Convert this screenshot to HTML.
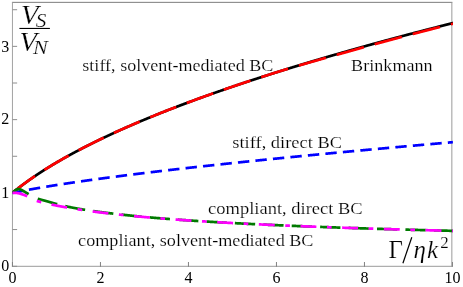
<!DOCTYPE html>
<html><head><meta charset="utf-8"><title>plot</title>
<style>
html,body{margin:0;padding:0;background:#fff;}
body{width:463px;height:287px;overflow:hidden;font-family:"Liberation Serif",serif;}
svg{display:block;will-change:transform;}
.mt{stroke:#fff;stroke-width:0.2px;}
</style></head><body>
<svg width="463" height="287" viewBox="0 0 463 287">
<defs><clipPath id="clip"><rect x="12.0" y="2.35" width="440.95000000000005" height="263.95"/></clipPath></defs>
<rect width="463" height="287" fill="#fff"/>
<g stroke-width="1" fill="none"><path d="M11.94,2.35 H452.35" stroke="#7c7c7c"/><path d="M12.44,2.35 V266.8" stroke="#a2a2a2"/><path d="M451.85,2.35 V266.8" stroke="#9a9a9a"/><path d="M11.94,266.3 H452.35" stroke="#9a9a9a"/><g stroke="#8e8e8e"><path d="M12.44,229.56 h4.7"/><path d="M12.44,192.92 h4.7"/><path d="M12.44,156.28 h4.7"/><path d="M12.44,119.64 h4.7"/><path d="M12.44,83.00 h4.7"/><path d="M12.44,46.36 h4.7"/><path d="M12.44,9.72 h4.7"/><path d="M12.44,266.8 v-4.8" stroke="#808080"/><path d="M100.44,266.8 v-4.8" stroke="#808080"/><path d="M188.44,266.8 v-4.8" stroke="#808080"/><path d="M276.44,266.8 v-4.8" stroke="#808080"/><path d="M364.44,266.8 v-4.8" stroke="#808080"/><path d="M452.44,266.8 v-4.8" stroke="#808080"/><path d="M12.44,266.3 h4.7"/></g></g>

<g fill="none" stroke-width="2.7" stroke-linecap="butt" stroke-linejoin="round" clip-path="url(#clip)">
<path d="M12.44,192.92 L12.55,192.83 L12.66,192.74 L12.77,192.65 L12.88,192.55 L12.99,192.46 L13.10,192.37 L13.21,192.28 L13.32,192.19 L13.43,192.10 L13.54,192.01 L13.65,191.92 L13.76,191.83 L13.87,191.74 L13.98,191.65 L14.09,191.56 L14.20,191.47 L14.31,191.38 L14.42,191.29 L14.53,191.20 L14.64,191.11 L14.75,191.02 L14.86,190.93 L14.97,190.84 L15.08,190.75 L15.19,190.66 L15.30,190.58 L15.41,190.49 L15.52,190.40 L15.63,190.31 L15.74,190.22 L15.85,190.13 L15.96,190.05 L16.07,189.96 L16.18,189.87 L16.29,189.78 L16.40,189.69 L16.51,189.61 L16.62,189.52 L16.73,189.43 L16.84,189.34 L16.95,189.26 L17.06,189.17 L17.17,189.08 L17.28,188.99 L17.39,188.91 L17.50,188.82 L17.61,188.73 L17.72,188.65 L17.83,188.56 L17.94,188.47 L18.05,188.39 L18.16,188.30 L18.27,188.22 L18.38,188.13 L18.49,188.04 L18.60,187.96 L18.71,187.87 L18.82,187.79 L18.93,187.70 L19.04,187.62 L19.15,187.53 L19.26,187.45 L19.37,187.36 L19.48,187.28 L19.59,187.19 L19.70,187.11 L19.81,187.02 L19.92,186.94 L20.03,186.85 L20.14,186.77 L20.25,186.68 L20.36,186.60 L20.47,186.51 L20.58,186.43 L20.69,186.34 L20.80,186.26 L20.91,186.18 L21.02,186.09 L21.13,186.01 L21.24,185.93 L21.35,185.84 L21.46,185.76 L21.57,185.68 L21.68,185.59 L21.79,185.51 L21.90,185.43 L22.01,185.34 L22.12,185.26 L22.23,185.18 L22.34,185.09 L22.45,185.01 L22.56,184.93 L22.67,184.85 L22.78,184.76 L22.89,184.68 L23.00,184.60 L23.11,184.52 L23.22,184.43 L23.33,184.35 L23.44,184.27 L23.55,184.19 L23.66,184.11 L23.77,184.03 L23.88,183.94 L23.99,183.86 L24.10,183.78 L24.21,183.70 L24.32,183.62 L24.43,183.54 L24.54,183.46 L24.65,183.37 L24.76,183.29 L24.87,183.21 L24.98,183.13 L25.09,183.05 L25.20,182.97 L25.31,182.89 L25.42,182.81 L25.53,182.73 L25.64,182.65 L25.75,182.57 L25.86,182.49 L25.97,182.41 L26.08,182.33 L26.19,182.25 L26.30,182.17 L26.41,182.09 L26.52,182.01 L26.63,181.93 L26.74,181.85 L26.85,181.77 L26.96,181.69 L27.07,181.61 L27.18,181.53 L27.29,181.45 L27.40,181.37 L27.51,181.29 L27.62,181.21 L27.73,181.14 L27.84,181.06 L27.95,180.98 L28.06,180.90 L28.17,180.82 L28.28,180.74 L28.39,180.66 L28.50,180.58 L28.61,180.51 L28.72,180.43 L28.83,180.35 L28.94,180.27 L29.05,180.19 L29.16,180.12 L29.27,180.04 L29.38,179.96 L29.49,179.88 L29.60,179.80 L29.71,179.73 L29.82,179.65 L29.93,179.57 L30.04,179.49 L30.15,179.42 L30.26,179.34 L30.37,179.26 L30.48,179.18 L30.59,179.11 L30.70,179.03 L30.81,178.95 L30.92,178.88 L31.03,178.80 L31.14,178.72 L31.25,178.65 L31.36,178.57 L31.47,178.49 L31.58,178.42 L31.69,178.34 L31.80,178.26 L31.91,178.19 L32.02,178.11 L32.13,178.04 L32.24,177.96 L32.35,177.88 L32.46,177.81 L32.57,177.73 L32.68,177.66 L32.79,177.58 L32.90,177.50 L33.01,177.43 L33.12,177.35 L33.23,177.28 L33.34,177.20 L33.45,177.13 L33.56,177.05 L33.67,176.98 L33.78,176.90 L33.89,176.83 L34.00,176.75 L34.11,176.68 L34.22,176.60 L34.33,176.53 L34.44,176.45 L34.55,176.38 L34.66,176.30 L34.77,176.23 L34.88,176.15 L34.99,176.08 L35.10,176.00 L35.21,175.93 L35.32,175.85 L35.43,175.78 L35.54,175.71 L35.65,175.63 L35.76,175.56 L35.87,175.48 L35.98,175.41 L36.09,175.34 L36.20,175.26 L36.31,175.19 L36.42,175.11 L36.53,175.04 L36.64,174.97 L36.75,174.89 L36.86,174.82 L36.97,174.75 L37.08,174.67 L37.19,174.60 L37.30,174.53 L37.41,174.45 L37.52,174.38 L37.63,174.31 L37.74,174.23 L37.85,174.16 L37.96,174.09 L38.07,174.02 L38.18,173.94 L38.29,173.87 L38.40,173.80 L38.51,173.72 L38.62,173.65 L38.73,173.58 L38.84,173.51 L38.95,173.43 L39.06,173.36 L39.17,173.29 L39.28,173.22 L39.39,173.15 L39.50,173.07 L39.61,173.00 L39.72,172.93 L39.83,172.86 L39.94,172.79 L40.05,172.71 L40.16,172.64 L40.27,172.57 L40.38,172.50 L40.49,172.43 L40.60,172.36 L40.71,172.28 L40.82,172.21 L40.93,172.14 L41.04,172.07 L41.15,172.00 L41.26,171.93 L41.37,171.86 L41.48,171.79 L41.59,171.71 L41.70,171.64 L41.81,171.57 L41.92,171.50 L42.03,171.43 L42.14,171.36 L42.25,171.29 L42.36,171.22 L42.47,171.15 L42.58,171.08 L42.69,171.01 L42.80,170.94 L42.91,170.87 L43.02,170.80 L43.13,170.72 L43.24,170.65 L43.35,170.58 L43.46,170.51 L43.57,170.44 L43.68,170.37 L43.79,170.30 L43.90,170.23 L44.01,170.16 L44.12,170.09 L44.23,170.02 L44.34,169.95 L44.45,169.88 L44.56,169.82 L44.67,169.75 L44.78,169.68 L44.89,169.61 L45.00,169.54 L45.11,169.47 L45.22,169.40 L45.33,169.33 L45.44,169.26 L45.55,169.19 L45.66,169.12 L45.77,169.05 L45.88,168.98 L45.99,168.91 L46.10,168.85 L46.21,168.78 L46.32,168.71 L46.43,168.64 L46.54,168.57 L46.65,168.50 L46.76,168.43 L46.87,168.36 L46.98,168.30 L47.09,168.23 L47.20,168.16 L47.31,168.09 L47.42,168.02 L47.53,167.95 L47.64,167.88 L47.75,167.82 L47.86,167.75 L47.97,167.68 L48.08,167.61 L48.19,167.54 L48.30,167.48 L48.41,167.41 L48.52,167.34 L48.63,167.27 L48.74,167.20 L48.85,167.14 L48.96,167.07 L49.07,167.00 L49.18,166.93 L49.29,166.87 L49.40,166.80 L49.51,166.73 L49.62,166.66 L49.73,166.60 L49.84,166.53 L49.95,166.46 L50.06,166.39 L50.17,166.33 L50.28,166.26 L50.39,166.19 L50.50,166.13 L50.61,166.06 L50.72,165.99 L50.83,165.92 L50.94,165.86 L51.05,165.79 L51.16,165.72 L51.27,165.66 L51.38,165.59 L51.49,165.52 L51.60,165.46 L51.71,165.39 L51.82,165.32 L51.93,165.26 L52.04,165.19 L52.15,165.12 L52.26,165.06 L52.37,164.99 L52.48,164.93 L52.59,164.86 L52.70,164.79 L52.81,164.73 L52.92,164.66 L53.03,164.59 L53.14,164.53 L53.25,164.46 L53.36,164.40 L53.47,164.33 L53.58,164.26 L53.69,164.20 L53.80,164.13 L53.91,164.07 L54.02,164.00 L54.13,163.94 L54.24,163.87 L54.35,163.80 L54.46,163.74 L54.57,163.67 L54.68,163.61 L54.79,163.54 L54.90,163.48 L55.01,163.41 L55.12,163.35 L55.23,163.28 L55.34,163.22 L55.45,163.15 L55.56,163.09 L55.67,163.02 L55.78,162.96 L55.89,162.89 L56.00,162.83 L56.11,162.76 L56.22,162.70 L56.33,162.63 L56.44,162.57 L56.77,162.37 L57.10,162.18 L57.43,161.98 L57.77,161.79 L58.10,161.60 L58.43,161.40 L58.76,161.21 L59.09,161.02 L59.42,160.82 L59.75,160.63 L60.09,160.44 L60.42,160.25 L60.75,160.06 L61.08,159.87 L61.41,159.68 L61.74,159.49 L62.07,159.30 L62.40,159.11 L62.74,158.92 L63.07,158.73 L63.40,158.55 L63.73,158.36 L64.06,158.17 L64.39,157.98 L64.72,157.80 L65.06,157.61 L65.39,157.43 L65.72,157.24 L66.05,157.05 L66.38,156.87 L66.71,156.68 L67.04,156.50 L67.38,156.32 L67.71,156.13 L68.04,155.95 L68.37,155.77 L68.70,155.58 L69.03,155.40 L69.36,155.22 L69.70,155.04 L70.03,154.85 L70.36,154.67 L70.69,154.49 L71.02,154.31 L71.35,154.13 L71.68,153.95 L72.01,153.77 L72.35,153.59 L72.68,153.41 L73.01,153.23 L73.34,153.05 L73.67,152.87 L74.00,152.70 L74.33,152.52 L74.67,152.34 L75.00,152.16 L75.33,151.98 L75.66,151.81 L75.99,151.63 L76.32,151.45 L76.65,151.28 L76.99,151.10 L77.32,150.93 L77.65,150.75 L77.98,150.58 L78.31,150.40 L78.64,150.23 L78.97,150.05 L79.30,149.88 L79.64,149.71 L79.97,149.53 L80.30,149.36 L80.63,149.19 L80.96,149.01 L81.29,148.84 L81.62,148.67 L81.96,148.50 L82.29,148.33 L82.62,148.15 L82.95,147.98 L83.28,147.81 L83.61,147.64 L83.94,147.47 L84.28,147.30 L84.61,147.13 L84.94,146.96 L85.27,146.79 L85.60,146.62 L85.93,146.45 L86.26,146.28 L86.60,146.12 L86.93,145.95 L87.26,145.78 L87.59,145.61 L87.92,145.44 L88.25,145.28 L88.58,145.11 L88.91,144.94 L89.25,144.78 L89.58,144.61 L89.91,144.44 L90.24,144.28 L90.57,144.11 L90.90,143.95 L91.23,143.78 L91.57,143.62 L91.90,143.45 L92.23,143.29 L92.56,143.12 L92.89,142.96 L93.22,142.79 L93.55,142.63 L93.89,142.47 L94.22,142.30 L94.55,142.14 L94.88,141.98 L95.21,141.81 L95.54,141.65 L95.87,141.49 L96.21,141.33 L96.54,141.17 L96.87,141.00 L97.20,140.84 L97.53,140.68 L97.86,140.52 L98.19,140.36 L98.52,140.20 L98.86,140.04 L99.19,139.88 L99.52,139.72 L99.85,139.56 L100.18,139.40 L100.51,139.24 L100.84,139.08 L101.18,138.92 L101.51,138.76 L101.84,138.60 L102.17,138.45 L102.50,138.29 L102.83,138.13 L103.16,137.97 L103.50,137.81 L103.83,137.66 L104.16,137.50 L104.49,137.34 L104.82,137.19 L105.15,137.03 L105.48,136.87 L105.82,136.72 L106.15,136.56 L106.48,136.40 L106.81,136.25 L107.14,136.09 L107.47,135.94 L107.80,135.78 L108.13,135.63 L108.47,135.47 L108.80,135.32 L109.13,135.16 L109.46,135.01 L109.79,134.86 L110.12,134.70 L110.45,134.55 L110.79,134.40 L111.12,134.24 L111.45,134.09 L111.78,133.94 L112.11,133.78 L112.44,133.63 L112.77,133.48 L113.11,133.33 L113.44,133.17 L113.77,133.02 L114.10,132.87 L114.43,132.72 L114.76,132.57 L115.09,132.42 L115.42,132.26 L115.76,132.11 L116.09,131.96 L116.42,131.81 L116.75,131.66 L117.08,131.51 L117.41,131.36 L117.74,131.21 L118.08,131.06 L118.41,130.91 L118.74,130.76 L119.07,130.61 L119.40,130.46 L119.73,130.32 L120.06,130.17 L120.40,130.02 L120.73,129.87 L121.06,129.72 L121.39,129.57 L121.72,129.43 L122.05,129.28 L122.38,129.13 L122.72,128.98 L123.05,128.84 L123.38,128.69 L123.71,128.54 L124.04,128.40 L124.37,128.25 L124.70,128.10 L125.03,127.96 L125.37,127.81 L125.70,127.66 L126.03,127.52 L126.36,127.37 L126.69,127.23 L127.02,127.08 L127.35,126.94 L127.69,126.79 L128.02,126.65 L128.35,126.50 L128.68,126.36 L129.01,126.21 L129.34,126.07 L129.67,125.92 L130.01,125.78 L130.34,125.63 L130.67,125.49 L131.00,125.35 L131.33,125.20 L131.66,125.06 L131.99,124.92 L132.33,124.77 L132.66,124.63 L132.99,124.49 L133.32,124.35 L133.65,124.20 L133.98,124.06 L134.31,123.92 L134.64,123.78 L134.98,123.63 L135.31,123.49 L135.64,123.35 L135.97,123.21 L136.30,123.07 L136.63,122.93 L136.96,122.79 L137.30,122.65 L137.63,122.50 L137.96,122.36 L138.29,122.22 L138.62,122.08 L138.95,121.94 L139.28,121.80 L139.62,121.66 L139.95,121.52 L140.28,121.38 L140.61,121.24 L140.94,121.10 L141.27,120.96 L141.60,120.83 L141.94,120.69 L142.27,120.55 L142.60,120.41 L142.93,120.27 L143.26,120.13 L143.59,119.99 L143.92,119.86 L144.25,119.72 L144.59,119.58 L144.92,119.44 L145.25,119.30 L145.58,119.17 L145.91,119.03 L146.24,118.89 L146.57,118.75 L146.91,118.62 L147.24,118.48 L147.57,118.34 L147.90,118.21 L148.23,118.07 L148.56,117.93 L148.89,117.80 L149.23,117.66 L149.56,117.52 L149.89,117.39 L150.22,117.25 L150.55,117.12 L150.88,116.98 L151.21,116.85 L151.54,116.71 L151.88,116.58 L152.21,116.44 L152.54,116.31 L152.87,116.17 L153.20,116.04 L153.53,115.90 L153.86,115.77 L154.20,115.63 L154.53,115.50 L154.86,115.36 L155.19,115.23 L155.52,115.10 L155.85,114.96 L156.18,114.83 L156.52,114.70 L156.85,114.56 L157.18,114.43 L157.51,114.30 L157.84,114.16 L158.17,114.03 L158.50,113.90 L158.84,113.76 L159.17,113.63 L159.50,113.50 L159.83,113.37 L160.16,113.23 L160.49,113.10 L160.82,112.97 L161.15,112.84 L161.49,112.71 L161.82,112.57 L162.15,112.44 L162.48,112.31 L162.81,112.18 L163.14,112.05 L163.47,111.92 L163.81,111.79 L164.14,111.66 L164.47,111.53 L164.80,111.39 L165.13,111.26 L165.46,111.13 L165.79,111.00 L166.13,110.87 L166.46,110.74 L166.79,110.61 L167.12,110.48 L167.45,110.35 L167.78,110.22 L168.11,110.09 L168.45,109.96 L168.78,109.84 L169.11,109.71 L169.44,109.58 L169.77,109.45 L170.10,109.32 L170.43,109.19 L170.76,109.06 L171.10,108.93 L171.43,108.80 L171.76,108.68 L172.09,108.55 L172.42,108.42 L172.75,108.29 L173.08,108.16 L173.42,108.03 L173.75,107.91 L174.08,107.78 L174.41,107.65 L174.74,107.52 L175.07,107.40 L175.40,107.27 L175.74,107.14 L176.07,107.02 L176.40,106.89 L176.73,106.76 L177.06,106.63 L177.39,106.51 L177.72,106.38 L178.06,106.26 L178.39,106.13 L178.72,106.00 L179.05,105.88 L179.38,105.75 L179.71,105.62 L180.04,105.50 L180.37,105.37 L180.71,105.25 L181.04,105.12 L181.37,105.00 L181.70,104.87 L182.03,104.75 L182.36,104.62 L182.69,104.49 L183.03,104.37 L183.36,104.24 L183.69,104.12 L184.02,104.00 L184.35,103.87 L184.68,103.75 L185.01,103.62 L185.35,103.50 L185.68,103.37 L186.01,103.25 L186.34,103.13 L186.67,103.00 L187.00,102.88 L187.33,102.75 L187.66,102.63 L188.00,102.51 L188.33,102.38 L188.66,102.26 L188.99,102.14 L189.32,102.01 L189.65,101.89 L189.98,101.77 L190.32,101.64 L190.65,101.52 L190.98,101.40 L191.31,101.28 L191.64,101.15 L191.97,101.03 L192.30,100.91 L192.64,100.79 L192.97,100.66 L193.30,100.54 L193.63,100.42 L193.96,100.30 L194.29,100.18 L194.62,100.05 L194.96,99.93 L195.29,99.81 L195.62,99.69 L195.95,99.57 L196.28,99.45 L196.61,99.33 L196.94,99.20 L197.27,99.08 L197.61,98.96 L197.94,98.84 L198.27,98.72 L198.60,98.60 L198.93,98.48 L199.26,98.36 L199.59,98.24 L199.93,98.12 L200.26,98.00 L200.59,97.88 L200.92,97.76 L201.25,97.64 L201.58,97.52 L201.91,97.40 L202.25,97.28 L202.58,97.16 L202.91,97.04 L203.24,96.92 L203.57,96.80 L203.90,96.68 L204.23,96.56 L204.57,96.44 L204.90,96.32 L205.23,96.20 L205.56,96.09 L205.89,95.97 L206.22,95.85 L206.55,95.73 L206.88,95.61 L207.22,95.49 L207.55,95.37 L207.88,95.25 L208.21,95.14 L208.54,95.02 L208.87,94.90 L209.20,94.78 L209.54,94.66 L209.87,94.55 L210.20,94.43 L210.53,94.31 L210.86,94.19 L211.19,94.08 L211.52,93.96 L211.86,93.84 L212.19,93.72 L212.52,93.61 L212.85,93.49 L213.18,93.37 L213.51,93.26 L213.84,93.14 L214.18,93.02 L214.51,92.91 L214.84,92.79 L215.17,92.67 L215.50,92.56 L215.83,92.44 L216.16,92.32 L216.49,92.21 L216.83,92.09 L217.16,91.97 L217.49,91.86 L217.82,91.74 L218.15,91.63 L218.48,91.51 L218.81,91.39 L219.15,91.28 L219.48,91.16 L219.81,91.05 L220.14,90.93 L220.47,90.82 L220.80,90.70 L221.13,90.59 L221.47,90.47 L221.80,90.36 L222.13,90.24 L222.46,90.13 L222.79,90.01 L223.12,89.90 L223.45,89.78 L223.78,89.67 L224.12,89.55 L224.45,89.44 L224.78,89.32 L225.11,89.21 L225.44,89.10 L225.77,88.98 L226.10,88.87 L226.44,88.75 L226.77,88.64 L227.10,88.53 L227.43,88.41 L227.76,88.30 L228.09,88.19 L228.42,88.07 L228.76,87.96 L229.09,87.84 L229.42,87.73 L229.75,87.62 L230.08,87.51 L230.41,87.39 L230.74,87.28 L231.08,87.17 L231.41,87.05 L231.74,86.94 L232.07,86.83 L232.40,86.71 L232.73,86.60 L233.06,86.49 L233.39,86.38 L233.73,86.26 L234.06,86.15 L234.39,86.04 L234.72,85.93 L235.05,85.82 L235.38,85.70 L235.71,85.59 L236.05,85.48 L236.38,85.37 L236.71,85.26 L237.04,85.14 L237.37,85.03 L237.70,84.92 L238.03,84.81 L238.37,84.70 L238.70,84.59 L239.03,84.48 L239.36,84.36 L239.69,84.25 L240.02,84.14 L240.35,84.03 L240.69,83.92 L241.02,83.81 L241.35,83.70 L241.68,83.59 L242.01,83.48 L242.34,83.37 L242.67,83.26 L243.00,83.15 L243.34,83.03 L243.67,82.92 L244.00,82.81 L244.33,82.70 L244.66,82.59 L244.99,82.48 L245.32,82.37 L245.66,82.26 L245.99,82.15 L246.32,82.04 L246.65,81.93 L246.98,81.82 L247.31,81.71 L247.64,81.60 L247.98,81.50 L248.31,81.39 L248.64,81.28 L248.97,81.17 L249.30,81.06 L249.63,80.95 L249.96,80.84 L250.30,80.73 L250.63,80.62 L250.96,80.51 L251.29,80.40 L251.62,80.30 L251.95,80.19 L252.28,80.08 L252.61,79.97 L252.95,79.86 L253.28,79.75 L253.61,79.64 L253.94,79.54 L254.27,79.43 L254.60,79.32 L254.93,79.21 L255.27,79.10 L255.60,78.99 L255.93,78.89 L256.26,78.78 L256.59,78.67 L256.92,78.56 L257.25,78.46 L257.59,78.35 L257.92,78.24 L258.25,78.13 L258.58,78.02 L258.91,77.92 L259.24,77.81 L259.57,77.70 L259.90,77.60 L260.24,77.49 L260.57,77.38 L260.90,77.27 L261.23,77.17 L261.56,77.06 L261.89,76.95 L262.22,76.85 L262.56,76.74 L262.89,76.63 L263.22,76.53 L263.55,76.42 L263.88,76.31 L264.21,76.21 L264.54,76.10 L264.88,75.99 L265.21,75.89 L265.54,75.78 L265.87,75.68 L266.20,75.57 L266.53,75.46 L266.86,75.36 L267.20,75.25 L267.53,75.15 L267.86,75.04 L268.19,74.93 L268.52,74.83 L268.85,74.72 L269.18,74.62 L269.51,74.51 L269.85,74.41 L270.18,74.30 L270.51,74.20 L270.84,74.09 L271.17,73.98 L271.50,73.88 L271.83,73.77 L272.17,73.67 L272.50,73.56 L272.83,73.46 L273.16,73.35 L273.49,73.25 L273.82,73.14 L274.15,73.04 L274.49,72.94 L274.82,72.83 L275.15,72.73 L275.48,72.62 L275.81,72.52 L276.14,72.41 L276.47,72.31 L276.81,72.20 L277.14,72.10 L277.47,72.00 L277.80,71.89 L278.13,71.79 L278.46,71.68 L278.79,71.58 L279.12,71.48 L279.46,71.37 L279.79,71.27 L280.12,71.16 L280.45,71.06 L280.78,70.96 L281.11,70.85 L281.44,70.75 L281.78,70.65 L282.11,70.54 L282.44,70.44 L282.77,70.34 L283.10,70.23 L283.43,70.13 L283.76,70.03 L284.10,69.92 L284.43,69.82 L284.76,69.72 L285.09,69.62 L285.42,69.51 L285.75,69.41 L286.08,69.31 L286.42,69.20 L286.75,69.10 L287.08,69.00 L287.41,68.90 L287.74,68.79 L288.07,68.69 L288.40,68.59 L288.73,68.49 L289.07,68.39 L289.40,68.28 L289.73,68.18 L290.06,68.08 L290.39,67.98 L290.72,67.87 L291.05,67.77 L291.39,67.67 L291.72,67.57 L292.05,67.47 L292.38,67.37 L292.71,67.26 L293.04,67.16 L293.37,67.06 L293.71,66.96 L294.04,66.86 L294.37,66.76 L294.70,66.66 L295.03,66.55 L295.36,66.45 L295.69,66.35 L296.02,66.25 L296.36,66.15 L296.69,66.05 L297.02,65.95 L297.35,65.85 L297.68,65.75 L298.01,65.64 L298.34,65.54 L298.68,65.44 L299.01,65.34 L299.34,65.24 L299.67,65.14 L300.00,65.04 L300.33,64.94 L300.66,64.84 L301.00,64.74 L301.33,64.64 L301.66,64.54 L301.99,64.44 L302.32,64.34 L302.65,64.24 L302.98,64.14 L303.32,64.04 L303.65,63.94 L303.98,63.84 L304.31,63.74 L304.64,63.64 L304.97,63.54 L305.30,63.44 L305.63,63.34 L305.97,63.24 L306.30,63.14 L306.63,63.04 L306.96,62.94 L307.29,62.84 L307.62,62.74 L307.95,62.64 L308.29,62.54 L308.62,62.44 L308.95,62.34 L309.28,62.24 L309.61,62.15 L309.94,62.05 L310.27,61.95 L310.61,61.85 L310.94,61.75 L311.27,61.65 L311.60,61.55 L311.93,61.45 L312.26,61.35 L312.59,61.26 L312.93,61.16 L313.26,61.06 L313.59,60.96 L313.92,60.86 L314.25,60.76 L314.58,60.66 L314.91,60.57 L315.24,60.47 L315.58,60.37 L315.91,60.27 L316.24,60.17 L316.57,60.08 L316.90,59.98 L317.23,59.88 L317.56,59.78 L317.90,59.68 L318.23,59.59 L318.56,59.49 L318.89,59.39 L319.22,59.29 L319.55,59.19 L319.88,59.10 L320.22,59.00 L320.55,58.90 L320.88,58.80 L321.21,58.71 L321.54,58.61 L321.87,58.51 L322.20,58.41 L322.54,58.32 L322.87,58.22 L323.20,58.12 L323.53,58.03 L323.86,57.93 L324.19,57.83 L324.52,57.73 L324.85,57.64 L325.19,57.54 L325.52,57.44 L325.85,57.35 L326.18,57.25 L326.51,57.15 L326.84,57.06 L327.17,56.96 L327.51,56.86 L327.84,56.77 L328.17,56.67 L328.50,56.57 L328.83,56.48 L329.16,56.38 L329.49,56.28 L329.83,56.19 L330.16,56.09 L330.49,56.00 L330.82,55.90 L331.15,55.80 L331.48,55.71 L331.81,55.61 L332.14,55.51 L332.48,55.42 L332.81,55.32 L333.14,55.23 L333.47,55.13 L333.80,55.04 L334.13,54.94 L334.46,54.84 L334.80,54.75 L335.13,54.65 L335.46,54.56 L335.79,54.46 L336.12,54.37 L336.45,54.27 L336.78,54.18 L337.12,54.08 L337.45,53.98 L337.78,53.89 L338.11,53.79 L338.44,53.70 L338.77,53.60 L339.10,53.51 L339.44,53.41 L339.77,53.32 L340.10,53.22 L340.43,53.13 L340.76,53.03 L341.09,52.94 L341.42,52.84 L341.75,52.75 L342.09,52.65 L342.42,52.56 L342.75,52.47 L343.08,52.37 L343.41,52.28 L343.74,52.18 L344.07,52.09 L344.41,51.99 L344.74,51.90 L345.07,51.80 L345.40,51.71 L345.73,51.62 L346.06,51.52 L346.39,51.43 L346.73,51.33 L347.06,51.24 L347.39,51.15 L347.72,51.05 L348.05,50.96 L348.38,50.86 L348.71,50.77 L349.05,50.68 L349.38,50.58 L349.71,50.49 L350.04,50.39 L350.37,50.30 L350.70,50.21 L351.03,50.11 L351.36,50.02 L351.70,49.93 L352.03,49.83 L352.36,49.74 L352.69,49.65 L353.02,49.55 L353.35,49.46 L353.68,49.37 L354.02,49.27 L354.35,49.18 L354.68,49.09 L355.01,48.99 L355.34,48.90 L355.67,48.81 L356.00,48.71 L356.34,48.62 L356.67,48.53 L357.00,48.44 L357.33,48.34 L357.66,48.25 L357.99,48.16 L358.32,48.06 L358.66,47.97 L358.99,47.88 L359.32,47.79 L359.65,47.69 L359.98,47.60 L360.31,47.51 L360.64,47.42 L360.97,47.32 L361.31,47.23 L361.64,47.14 L361.97,47.05 L362.30,46.95 L362.63,46.86 L362.96,46.77 L363.29,46.68 L363.63,46.59 L363.96,46.49 L364.29,46.40 L364.62,46.31 L364.95,46.22 L365.28,46.13 L365.61,46.03 L365.95,45.94 L366.28,45.85 L366.61,45.76 L366.94,45.67 L367.27,45.58 L367.60,45.48 L367.93,45.39 L368.26,45.30 L368.60,45.21 L368.93,45.12 L369.26,45.03 L369.59,44.93 L369.92,44.84 L370.25,44.75 L370.58,44.66 L370.92,44.57 L371.25,44.48 L371.58,44.39 L371.91,44.30 L372.24,44.21 L372.57,44.11 L372.90,44.02 L373.24,43.93 L373.57,43.84 L373.90,43.75 L374.23,43.66 L374.56,43.57 L374.89,43.48 L375.22,43.39 L375.56,43.30 L375.89,43.21 L376.22,43.11 L376.55,43.02 L376.88,42.93 L377.21,42.84 L377.54,42.75 L377.87,42.66 L378.21,42.57 L378.54,42.48 L378.87,42.39 L379.20,42.30 L379.53,42.21 L379.86,42.12 L380.19,42.03 L380.53,41.94 L380.86,41.85 L381.19,41.76 L381.52,41.67 L381.85,41.58 L382.18,41.49 L382.51,41.40 L382.85,41.31 L383.18,41.22 L383.51,41.13 L383.84,41.04 L384.17,40.95 L384.50,40.86 L384.83,40.77 L385.17,40.68 L385.50,40.59 L385.83,40.50 L386.16,40.41 L386.49,40.32 L386.82,40.23 L387.15,40.14 L387.48,40.05 L387.82,39.96 L388.15,39.88 L388.48,39.79 L388.81,39.70 L389.14,39.61 L389.47,39.52 L389.80,39.43 L390.14,39.34 L390.47,39.25 L390.80,39.16 L391.13,39.07 L391.46,38.98 L391.79,38.89 L392.12,38.81 L392.46,38.72 L392.79,38.63 L393.12,38.54 L393.45,38.45 L393.78,38.36 L394.11,38.27 L394.44,38.18 L394.78,38.10 L395.11,38.01 L395.44,37.92 L395.77,37.83 L396.10,37.74 L396.43,37.65 L396.76,37.56 L397.09,37.48 L397.43,37.39 L397.76,37.30 L398.09,37.21 L398.42,37.12 L398.75,37.03 L399.08,36.95 L399.41,36.86 L399.75,36.77 L400.08,36.68 L400.41,36.59 L400.74,36.50 L401.07,36.42 L401.40,36.33 L401.73,36.24 L402.07,36.15 L402.40,36.07 L402.73,35.98 L403.06,35.89 L403.39,35.80 L403.72,35.71 L404.05,35.63 L404.38,35.54 L404.72,35.45 L405.05,35.36 L405.38,35.28 L405.71,35.19 L406.04,35.10 L406.37,35.01 L406.70,34.93 L407.04,34.84 L407.37,34.75 L407.70,34.66 L408.03,34.58 L408.36,34.49 L408.69,34.40 L409.02,34.31 L409.36,34.23 L409.69,34.14 L410.02,34.05 L410.35,33.97 L410.68,33.88 L411.01,33.79 L411.34,33.70 L411.68,33.62 L412.01,33.53 L412.34,33.44 L412.67,33.36 L413.00,33.27 L413.33,33.18 L413.66,33.10 L413.99,33.01 L414.33,32.92 L414.66,32.84 L414.99,32.75 L415.32,32.66 L415.65,32.58 L415.98,32.49 L416.31,32.40 L416.65,32.32 L416.98,32.23 L417.31,32.14 L417.64,32.06 L417.97,31.97 L418.30,31.89 L418.63,31.80 L418.97,31.71 L419.30,31.63 L419.63,31.54 L419.96,31.45 L420.29,31.37 L420.62,31.28 L420.95,31.20 L421.29,31.11 L421.62,31.02 L421.95,30.94 L422.28,30.85 L422.61,30.77 L422.94,30.68 L423.27,30.59 L423.60,30.51 L423.94,30.42 L424.27,30.34 L424.60,30.25 L424.93,30.17 L425.26,30.08 L425.59,29.99 L425.92,29.91 L426.26,29.82 L426.59,29.74 L426.92,29.65 L427.25,29.57 L427.58,29.48 L427.91,29.40 L428.24,29.31 L428.58,29.23 L428.91,29.14 L429.24,29.05 L429.57,28.97 L429.90,28.88 L430.23,28.80 L430.56,28.71 L430.90,28.63 L431.23,28.54 L431.56,28.46 L431.89,28.37 L432.22,28.29 L432.55,28.20 L432.88,28.12 L433.21,28.03 L433.55,27.95 L433.88,27.86 L434.21,27.78 L434.54,27.69 L434.87,27.61 L435.20,27.52 L435.53,27.44 L435.87,27.36 L436.20,27.27 L436.53,27.19 L436.86,27.10 L437.19,27.02 L437.52,26.93 L437.85,26.85 L438.19,26.76 L438.52,26.68 L438.85,26.59 L439.18,26.51 L439.51,26.43 L439.84,26.34 L440.17,26.26 L440.50,26.17 L440.84,26.09 L441.17,26.00 L441.50,25.92 L441.83,25.84 L442.16,25.75 L442.49,25.67 L442.82,25.58 L443.16,25.50 L443.49,25.42 L443.82,25.33 L444.15,25.25 L444.48,25.16 L444.81,25.08 L445.14,25.00 L445.48,24.91 L445.81,24.83 L446.14,24.75 L446.47,24.66 L446.80,24.58 L447.13,24.49 L447.46,24.41 L447.80,24.33 L448.13,24.24 L448.46,24.16 L448.79,24.08 L449.12,23.99 L449.45,23.91 L449.78,23.83 L450.11,23.74 L450.45,23.66 L450.78,23.58 L451.11,23.49 L451.44,23.41 L451.77,23.33 L452.10,23.24 L452.43,23.16 L452.77,23.08 L453.10,22.99 L453.43,22.91 L453.76,22.83" stroke="#000"/>
<path d="M12.44,192.92 L12.55,192.83 L12.66,192.74 L12.77,192.65 L12.88,192.55 L12.99,192.46 L13.10,192.37 L13.21,192.28 L13.32,192.19 L13.43,192.10 L13.54,192.01 L13.65,191.92 L13.76,191.83 L13.87,191.74 L13.98,191.65 L14.09,191.56 L14.20,191.47 L14.31,191.38 L14.42,191.29 L14.53,191.20 L14.64,191.11 L14.75,191.02 L14.86,190.93 L14.97,190.84 L15.08,190.75 L15.19,190.66 L15.30,190.58 L15.41,190.49 L15.52,190.40 L15.63,190.31 L15.74,190.22 L15.85,190.13 L15.96,190.05 L16.07,189.96 L16.18,189.87 L16.29,189.78 L16.40,189.69 L16.51,189.61 L16.62,189.52 L16.73,189.43 L16.84,189.34 L16.95,189.26 L17.06,189.17 L17.17,189.08 L17.28,188.99 L17.39,188.91 L17.50,188.82 L17.61,188.73 L17.72,188.65 L17.83,188.56 L17.94,188.47 L18.05,188.39 L18.16,188.30 L18.27,188.22 L18.38,188.13 L18.49,188.04 L18.60,187.96 L18.71,187.87 L18.82,187.79 L18.93,187.70 L19.04,187.62 L19.15,187.53 L19.26,187.45 L19.37,187.36 L19.48,187.28 L19.59,187.19 L19.70,187.11 L19.81,187.02 L19.92,186.94 L20.03,186.85 L20.14,186.77 L20.25,186.68 L20.36,186.60 L20.47,186.51 L20.58,186.43 L20.69,186.34 L20.80,186.26 L20.91,186.18 L21.02,186.09 L21.13,186.01 L21.24,185.93 L21.35,185.84 L21.46,185.76 L21.57,185.68 L21.68,185.59 L21.79,185.51 L21.90,185.43 L22.01,185.34 L22.12,185.26 L22.23,185.18 L22.34,185.09 L22.45,185.01 L22.56,184.93 L22.67,184.85 L22.78,184.76 L22.89,184.68 L23.00,184.60 L23.11,184.52 L23.22,184.43 L23.33,184.35 L23.44,184.27 L23.55,184.19 L23.66,184.11 L23.77,184.03 L23.88,183.94 L23.99,183.86 L24.10,183.78 L24.21,183.70 L24.32,183.62 L24.43,183.54 L24.54,183.46 L24.65,183.37 L24.76,183.29 L24.87,183.21 L24.98,183.13 L25.09,183.05 L25.20,182.97 L25.31,182.89 L25.42,182.81 L25.53,182.73 L25.64,182.65 L25.75,182.57 L25.86,182.49 L25.97,182.41 L26.08,182.33 L26.19,182.25 L26.30,182.17 L26.41,182.09 L26.52,182.01 L26.63,181.93 L26.74,181.85 L26.85,181.77 L26.96,181.69 L27.07,181.61 L27.18,181.53 L27.29,181.45 L27.40,181.37 L27.51,181.29 L27.62,181.21 L27.73,181.14 L27.84,181.06 L27.95,180.98 L28.06,180.90 L28.17,180.82 L28.28,180.74 L28.39,180.66 L28.50,180.58 L28.61,180.51 L28.72,180.43 L28.83,180.35 L28.94,180.27 L29.05,180.19 L29.16,180.12 L29.27,180.04 L29.38,179.96 L29.49,179.88 L29.60,179.80 L29.71,179.73 L29.82,179.65 L29.93,179.57 L30.04,179.49 L30.15,179.42 L30.26,179.34 L30.37,179.26 L30.48,179.18 L30.59,179.11 L30.70,179.03 L30.81,178.95 L30.92,178.88 L31.03,178.80 L31.14,178.72 L31.25,178.65 L31.36,178.57 L31.47,178.49 L31.58,178.42 L31.69,178.34 L31.80,178.26 L31.91,178.19 L32.02,178.11 L32.13,178.04 L32.24,177.96 L32.35,177.88 L32.46,177.81 L32.57,177.73 L32.68,177.66 L32.79,177.58 L32.90,177.50 L33.01,177.43 L33.12,177.35 L33.23,177.28 L33.34,177.20 L33.45,177.13 L33.56,177.05 L33.67,176.98 L33.78,176.90 L33.89,176.83 L34.00,176.75 L34.11,176.68 L34.22,176.60 L34.33,176.53 L34.44,176.45 L34.55,176.38 L34.66,176.30 L34.77,176.23 L34.88,176.15 L34.99,176.08 L35.10,176.00 L35.21,175.93 L35.32,175.85 L35.43,175.78 L35.54,175.71 L35.65,175.63 L35.76,175.56 L35.87,175.48 L35.98,175.41 L36.09,175.34 L36.20,175.26 L36.31,175.19 L36.42,175.11 L36.53,175.04 L36.64,174.97 L36.75,174.89 L36.86,174.82 L36.97,174.75 L37.08,174.67 L37.19,174.60 L37.30,174.53 L37.41,174.45 L37.52,174.38 L37.63,174.31 L37.74,174.23 L37.85,174.16 L37.96,174.09 L38.07,174.02 L38.18,173.94 L38.29,173.87 L38.40,173.80 L38.51,173.72 L38.62,173.65 L38.73,173.58 L38.84,173.51 L38.95,173.43 L39.06,173.36 L39.17,173.29 L39.28,173.22 L39.39,173.15 L39.50,173.07 L39.61,173.00 L39.72,172.93 L39.83,172.86 L39.94,172.79 L40.05,172.71 L40.16,172.64 L40.27,172.57 L40.38,172.50 L40.49,172.43 L40.60,172.36 L40.71,172.28 L40.82,172.21 L40.93,172.14 L41.04,172.07 L41.15,172.00 L41.26,171.93 L41.37,171.86 L41.48,171.79 L41.59,171.71 L41.70,171.64 L41.81,171.57 L41.92,171.50 L42.03,171.43 L42.14,171.36 L42.25,171.29 L42.36,171.22 L42.47,171.15 L42.58,171.08 L42.69,171.01 L42.80,170.94 L42.91,170.87 L43.02,170.80 L43.13,170.72 L43.24,170.65 L43.35,170.58 L43.46,170.51 L43.57,170.44 L43.68,170.37 L43.79,170.30 L43.90,170.23 L44.01,170.16 L44.12,170.09 L44.23,170.02 L44.34,169.95 L44.45,169.88 L44.56,169.82 L44.67,169.75 L44.78,169.68 L44.89,169.61 L45.00,169.54 L45.11,169.47 L45.22,169.40 L45.33,169.33 L45.44,169.26 L45.55,169.19 L45.66,169.12 L45.77,169.05 L45.88,168.98 L45.99,168.91 L46.10,168.85 L46.21,168.78 L46.32,168.71 L46.43,168.64 L46.54,168.57 L46.65,168.50 L46.76,168.43 L46.87,168.36 L46.98,168.30 L47.09,168.23 L47.20,168.16 L47.31,168.09 L47.42,168.02 L47.53,167.95 L47.64,167.88 L47.75,167.82 L47.86,167.75 L47.97,167.68 L48.08,167.61 L48.19,167.54 L48.30,167.48 L48.41,167.41 L48.52,167.34 L48.63,167.27 L48.74,167.20 L48.85,167.14 L48.96,167.07 L49.07,167.00 L49.18,166.93 L49.29,166.87 L49.40,166.80 L49.51,166.73 L49.62,166.66 L49.73,166.60 L49.84,166.53 L49.95,166.46 L50.06,166.39 L50.17,166.33 L50.28,166.26 L50.39,166.19 L50.50,166.13 L50.61,166.06 L50.72,165.99 L50.83,165.92 L50.94,165.86 L51.05,165.79 L51.16,165.72 L51.27,165.66 L51.38,165.59 L51.49,165.52 L51.60,165.46 L51.71,165.39 L51.82,165.32 L51.93,165.26 L52.04,165.19 L52.15,165.12 L52.26,165.06 L52.37,164.99 L52.48,164.93 L52.59,164.86 L52.70,164.79 L52.81,164.73 L52.92,164.66 L53.03,164.59 L53.14,164.53 L53.25,164.46 L53.36,164.40 L53.47,164.33 L53.58,164.26 L53.69,164.20 L53.80,164.13 L53.91,164.07 L54.02,164.00 L54.13,163.94 L54.24,163.87 L54.35,163.80 L54.46,163.74 L54.57,163.67 L54.68,163.61 L54.79,163.54 L54.90,163.48 L55.01,163.41 L55.12,163.35 L55.23,163.28 L55.34,163.22 L55.45,163.15 L55.56,163.09 L55.67,163.02 L55.78,162.96 L55.89,162.89 L56.00,162.83 L56.11,162.76 L56.22,162.70 L56.33,162.63 L56.44,162.57 L56.77,162.37 L57.10,162.18 L57.43,161.98 L57.77,161.79 L58.10,161.60 L58.43,161.40 L58.76,161.21 L59.09,161.02 L59.42,160.82 L59.75,160.63 L60.09,160.44 L60.42,160.25 L60.75,160.06 L61.08,159.87 L61.41,159.68 L61.74,159.49 L62.07,159.30 L62.40,159.11 L62.74,158.92 L63.07,158.73 L63.40,158.55 L63.73,158.36 L64.06,158.17 L64.39,157.98 L64.72,157.80 L65.06,157.61 L65.39,157.43 L65.72,157.24 L66.05,157.05 L66.38,156.87 L66.71,156.68 L67.04,156.50 L67.38,156.32 L67.71,156.13 L68.04,155.95 L68.37,155.77 L68.70,155.58 L69.03,155.40 L69.36,155.22 L69.70,155.04 L70.03,154.85 L70.36,154.67 L70.69,154.49 L71.02,154.31 L71.35,154.13 L71.68,153.95 L72.01,153.77 L72.35,153.59 L72.68,153.41 L73.01,153.23 L73.34,153.05 L73.67,152.87 L74.00,152.70 L74.33,152.52 L74.67,152.34 L75.00,152.16 L75.33,151.98 L75.66,151.81 L75.99,151.63 L76.32,151.45 L76.65,151.28 L76.99,151.10 L77.32,150.93 L77.65,150.75 L77.98,150.58 L78.31,150.40 L78.64,150.23 L78.97,150.05 L79.30,149.88 L79.64,149.71 L79.97,149.53 L80.30,149.36 L80.63,149.19 L80.96,149.01 L81.29,148.84 L81.62,148.67 L81.96,148.50 L82.29,148.33 L82.62,148.15 L82.95,147.98 L83.28,147.81 L83.61,147.64 L83.94,147.47 L84.28,147.30 L84.61,147.13 L84.94,146.96 L85.27,146.79 L85.60,146.62 L85.93,146.45 L86.26,146.28 L86.60,146.12 L86.93,145.95 L87.26,145.78 L87.59,145.61 L87.92,145.44 L88.25,145.28 L88.58,145.11 L88.91,144.94 L89.25,144.78 L89.58,144.61 L89.91,144.44 L90.24,144.28 L90.57,144.11 L90.90,143.95 L91.23,143.78 L91.57,143.62 L91.90,143.45 L92.23,143.29 L92.56,143.12 L92.89,142.96 L93.22,142.79 L93.55,142.63 L93.89,142.47 L94.22,142.30 L94.55,142.14 L94.88,141.98 L95.21,141.81 L95.54,141.65 L95.87,141.49 L96.21,141.33 L96.54,141.17 L96.87,141.00 L97.20,140.84 L97.53,140.68 L97.86,140.52 L98.19,140.36 L98.52,140.20 L98.86,140.04 L99.19,139.88 L99.52,139.72 L99.85,139.56 L100.18,139.40 L100.51,139.24 L100.84,139.08 L101.18,138.92 L101.51,138.76 L101.84,138.60 L102.17,138.45 L102.50,138.29 L102.83,138.13 L103.16,137.97 L103.50,137.81 L103.83,137.66 L104.16,137.50 L104.49,137.34 L104.82,137.19 L105.15,137.03 L105.48,136.87 L105.82,136.72 L106.15,136.56 L106.48,136.40 L106.81,136.25 L107.14,136.09 L107.47,135.94 L107.80,135.78 L108.13,135.63 L108.47,135.47 L108.80,135.32 L109.13,135.16 L109.46,135.01 L109.79,134.86 L110.12,134.70 L110.45,134.55 L110.79,134.40 L111.12,134.24 L111.45,134.09 L111.78,133.94 L112.11,133.78 L112.44,133.63 L112.77,133.48 L113.11,133.33 L113.44,133.17 L113.77,133.02 L114.10,132.87 L114.43,132.72 L114.76,132.57 L115.09,132.42 L115.42,132.26 L115.76,132.11 L116.09,131.96 L116.42,131.81 L116.75,131.66 L117.08,131.51 L117.41,131.36 L117.74,131.21 L118.08,131.06 L118.41,130.91 L118.74,130.76 L119.07,130.61 L119.40,130.46 L119.73,130.32 L120.06,130.17 L120.40,130.02 L120.73,129.87 L121.06,129.72 L121.39,129.57 L121.72,129.43 L122.05,129.28 L122.38,129.13 L122.72,128.98 L123.05,128.84 L123.38,128.69 L123.71,128.54 L124.04,128.40 L124.37,128.25 L124.70,128.10 L125.03,127.96 L125.37,127.81 L125.70,127.66 L126.03,127.52 L126.36,127.37 L126.69,127.23 L127.02,127.08 L127.35,126.94 L127.69,126.79 L128.02,126.65 L128.35,126.50 L128.68,126.36 L129.01,126.21 L129.34,126.07 L129.67,125.92 L130.01,125.78 L130.34,125.63 L130.67,125.49 L131.00,125.35 L131.33,125.20 L131.66,125.06 L131.99,124.92 L132.33,124.77 L132.66,124.63 L132.99,124.49 L133.32,124.35 L133.65,124.20 L133.98,124.06 L134.31,123.92 L134.64,123.78 L134.98,123.63 L135.31,123.49 L135.64,123.35 L135.97,123.21 L136.30,123.07 L136.63,122.93 L136.96,122.79 L137.30,122.65 L137.63,122.50 L137.96,122.36 L138.29,122.22 L138.62,122.08 L138.95,121.94 L139.28,121.80 L139.62,121.66 L139.95,121.52 L140.28,121.38 L140.61,121.24 L140.94,121.10 L141.27,120.96 L141.60,120.83 L141.94,120.69 L142.27,120.55 L142.60,120.41 L142.93,120.27 L143.26,120.13 L143.59,119.99 L143.92,119.86 L144.25,119.72 L144.59,119.58 L144.92,119.44 L145.25,119.30 L145.58,119.17 L145.91,119.03 L146.24,118.89 L146.57,118.75 L146.91,118.62 L147.24,118.48 L147.57,118.34 L147.90,118.21 L148.23,118.07 L148.56,117.93 L148.89,117.80 L149.23,117.66 L149.56,117.52 L149.89,117.39 L150.22,117.25 L150.55,117.12 L150.88,116.98 L151.21,116.85 L151.54,116.71 L151.88,116.58 L152.21,116.44 L152.54,116.31 L152.87,116.17 L153.20,116.04 L153.53,115.90 L153.86,115.77 L154.20,115.63 L154.53,115.50 L154.86,115.36 L155.19,115.23 L155.52,115.10 L155.85,114.96 L156.18,114.83 L156.52,114.70 L156.85,114.56 L157.18,114.43 L157.51,114.30 L157.84,114.16 L158.17,114.03 L158.50,113.90 L158.84,113.76 L159.17,113.63 L159.50,113.50 L159.83,113.37 L160.16,113.23 L160.49,113.10 L160.82,112.97 L161.15,112.84 L161.49,112.71 L161.82,112.57 L162.15,112.44 L162.48,112.31 L162.81,112.18 L163.14,112.05 L163.47,111.92 L163.81,111.79 L164.14,111.66 L164.47,111.53 L164.80,111.39 L165.13,111.26 L165.46,111.13 L165.79,111.00 L166.13,110.87 L166.46,110.74 L166.79,110.61 L167.12,110.48 L167.45,110.35 L167.78,110.22 L168.11,110.09 L168.45,109.96 L168.78,109.84 L169.11,109.71 L169.44,109.58 L169.77,109.45 L170.10,109.32 L170.43,109.19 L170.76,109.06 L171.10,108.93 L171.43,108.80 L171.76,108.68 L172.09,108.55 L172.42,108.42 L172.75,108.29 L173.08,108.16 L173.42,108.03 L173.75,107.91 L174.08,107.78 L174.41,107.65 L174.74,107.52 L175.07,107.40 L175.40,107.27 L175.74,107.14 L176.07,107.02 L176.40,106.89 L176.73,106.76 L177.06,106.63 L177.39,106.51 L177.72,106.38 L178.06,106.26 L178.39,106.13 L178.72,106.00 L179.05,105.88 L179.38,105.75 L179.71,105.62 L180.04,105.50 L180.37,105.37 L180.71,105.25 L181.04,105.12 L181.37,105.00 L181.70,104.87 L182.03,104.75 L182.36,104.62 L182.69,104.49 L183.03,104.37 L183.36,104.24 L183.69,104.12 L184.02,104.00 L184.35,103.87 L184.68,103.75 L185.01,103.62 L185.35,103.50 L185.68,103.37 L186.01,103.25 L186.34,103.13 L186.67,103.00 L187.00,102.88 L187.33,102.75 L187.66,102.63 L188.00,102.51 L188.33,102.38 L188.66,102.26 L188.99,102.14 L189.32,102.01 L189.65,101.89 L189.98,101.77 L190.32,101.64 L190.65,101.52 L190.98,101.40 L191.31,101.28 L191.64,101.15 L191.97,101.03 L192.30,100.91 L192.64,100.79 L192.97,100.66 L193.30,100.54 L193.63,100.42 L193.96,100.30 L194.29,100.18 L194.62,100.05 L194.96,99.93 L195.29,99.81 L195.62,99.69 L195.95,99.57 L196.28,99.45 L196.61,99.33 L196.94,99.20 L197.27,99.08 L197.61,98.96 L197.94,98.84 L198.27,98.72 L198.60,98.60 L198.93,98.48 L199.26,98.36 L199.59,98.24 L199.93,98.12 L200.26,98.00 L200.59,97.88 L200.92,97.76 L201.25,97.64 L201.58,97.52 L201.91,97.40 L202.25,97.28 L202.58,97.16 L202.91,97.04 L203.24,96.92 L203.57,96.80 L203.90,96.68 L204.23,96.56 L204.57,96.44 L204.90,96.32 L205.23,96.20 L205.56,96.09 L205.89,95.97 L206.22,95.85 L206.55,95.73 L206.88,95.61 L207.22,95.49 L207.55,95.37 L207.88,95.25 L208.21,95.14 L208.54,95.02 L208.87,94.90 L209.20,94.78 L209.54,94.66 L209.87,94.55 L210.20,94.43 L210.53,94.31 L210.86,94.19 L211.19,94.08 L211.52,93.96 L211.86,93.84 L212.19,93.72 L212.52,93.61 L212.85,93.49 L213.18,93.37 L213.51,93.26 L213.84,93.14 L214.18,93.02 L214.51,92.91 L214.84,92.79 L215.17,92.67 L215.50,92.56 L215.83,92.44 L216.16,92.32 L216.49,92.21 L216.83,92.09 L217.16,91.97 L217.49,91.86 L217.82,91.74 L218.15,91.63 L218.48,91.51 L218.81,91.39 L219.15,91.28 L219.48,91.16 L219.81,91.05 L220.14,90.93 L220.47,90.82 L220.80,90.70 L221.13,90.59 L221.47,90.47 L221.80,90.36 L222.13,90.24 L222.46,90.13 L222.79,90.01 L223.12,89.90 L223.45,89.78 L223.78,89.67 L224.12,89.55 L224.45,89.44 L224.78,89.32 L225.11,89.21 L225.44,89.10 L225.77,88.98 L226.10,88.87 L226.44,88.75 L226.77,88.64 L227.10,88.53 L227.43,88.41 L227.76,88.30 L228.09,88.19 L228.42,88.07 L228.76,87.96 L229.09,87.84 L229.42,87.73 L229.75,87.62 L230.08,87.51 L230.41,87.39 L230.74,87.28 L231.08,87.17 L231.41,87.05 L231.74,86.94 L232.07,86.83 L232.40,86.71 L232.73,86.60 L233.06,86.49 L233.39,86.38 L233.73,86.26 L234.06,86.15 L234.39,86.04 L234.72,85.93 L235.05,85.82 L235.38,85.70 L235.71,85.59 L236.05,85.48 L236.38,85.37 L236.71,85.26 L237.04,85.14 L237.37,85.03 L237.70,84.92 L238.03,84.81 L238.37,84.70 L238.70,84.59 L239.03,84.48 L239.36,84.36 L239.69,84.25 L240.02,84.14 L240.35,84.03 L240.69,83.92 L241.02,83.81 L241.35,83.70 L241.68,83.59 L242.01,83.48 L242.34,83.37 L242.67,83.26 L243.00,83.15 L243.34,83.03 L243.67,82.92 L244.00,82.81 L244.33,82.70 L244.66,82.59 L244.99,82.48 L245.32,82.37 L245.66,82.26 L245.99,82.15 L246.32,82.04 L246.65,81.93 L246.98,81.82 L247.31,81.71 L247.64,81.60 L247.98,81.50 L248.31,81.39 L248.64,81.28 L248.97,81.17 L249.30,81.06 L249.63,80.95 L249.96,80.84 L250.30,80.73 L250.63,80.62 L250.96,80.51 L251.29,80.40 L251.62,80.30 L251.95,80.19 L252.28,80.08 L252.61,79.97 L252.95,79.86 L253.28,79.75 L253.61,79.64 L253.94,79.54 L254.27,79.43 L254.60,79.32 L254.93,79.21 L255.27,79.10 L255.60,78.99 L255.93,78.89 L256.26,78.78 L256.59,78.67 L256.92,78.56 L257.25,78.46 L257.59,78.35 L257.92,78.24 L258.25,78.13 L258.58,78.02 L258.91,77.92 L259.24,77.81 L259.57,77.70 L259.90,77.60 L260.24,77.49 L260.57,77.38 L260.90,77.27 L261.23,77.17 L261.56,77.06 L261.89,76.95 L262.22,76.85 L262.56,76.74 L262.89,76.63 L263.22,76.53 L263.55,76.42 L263.88,76.31 L264.21,76.21 L264.54,76.10 L264.88,75.99 L265.21,75.89 L265.54,75.78 L265.87,75.68 L266.20,75.57 L266.53,75.46 L266.86,75.36 L267.20,75.25 L267.53,75.15 L267.86,75.04 L268.19,74.93 L268.52,74.83 L268.85,74.72 L269.18,74.62 L269.51,74.51 L269.85,74.41 L270.18,74.30 L270.51,74.20 L270.84,74.09 L271.17,73.98 L271.50,73.88 L271.83,73.77 L272.17,73.67 L272.50,73.56 L272.83,73.46 L273.16,73.35 L273.49,73.25 L273.82,73.14 L274.15,73.04 L274.49,72.94 L274.82,72.83 L275.15,72.73 L275.48,72.62 L275.81,72.52 L276.14,72.41 L276.47,72.31 L276.81,72.20 L277.14,72.10 L277.47,72.00 L277.80,71.89 L278.13,71.79 L278.46,71.69 L278.79,71.58 L279.12,71.48 L279.46,71.38 L279.79,71.27 L280.12,71.17 L280.45,71.07 L280.78,70.96 L281.11,70.86 L281.44,70.76 L281.78,70.66 L282.11,70.56 L282.44,70.45 L282.77,70.35 L283.10,70.25 L283.43,70.15 L283.76,70.05 L284.10,69.95 L284.43,69.84 L284.76,69.74 L285.09,69.64 L285.42,69.54 L285.75,69.44 L286.08,69.34 L286.42,69.24 L286.75,69.14 L287.08,69.04 L287.41,68.94 L287.74,68.84 L288.07,68.74 L288.40,68.64 L288.73,68.54 L289.07,68.44 L289.40,68.34 L289.73,68.24 L290.06,68.14 L290.39,68.04 L290.72,67.94 L291.05,67.84 L291.39,67.74 L291.72,67.64 L292.05,67.55 L292.38,67.45 L292.71,67.35 L293.04,67.25 L293.37,67.15 L293.71,67.05 L294.04,66.96 L294.37,66.86 L294.70,66.76 L295.03,66.66 L295.36,66.56 L295.69,66.47 L296.02,66.37 L296.36,66.27 L296.69,66.17 L297.02,66.08 L297.35,65.98 L297.68,65.88 L298.01,65.78 L298.34,65.69 L298.68,65.59 L299.01,65.49 L299.34,65.40 L299.67,65.30 L300.00,65.20 L300.33,65.11 L300.66,65.01 L301.00,64.91 L301.33,64.82 L301.66,64.72 L301.99,64.63 L302.32,64.53 L302.65,64.43 L302.98,64.34 L303.32,64.24 L303.65,64.15 L303.98,64.05 L304.31,63.96 L304.64,63.86 L304.97,63.76 L305.30,63.67 L305.63,63.57 L305.97,63.48 L306.30,63.38 L306.63,63.29 L306.96,63.19 L307.29,63.10 L307.62,63.00 L307.95,62.91 L308.29,62.81 L308.62,62.72 L308.95,62.62 L309.28,62.53 L309.61,62.44 L309.94,62.34 L310.27,62.25 L310.61,62.15 L310.94,62.06 L311.27,61.96 L311.60,61.87 L311.93,61.77 L312.26,61.68 L312.59,61.59 L312.93,61.49 L313.26,61.40 L313.59,61.30 L313.92,61.21 L314.25,61.12 L314.58,61.02 L314.91,60.93 L315.24,60.84 L315.58,60.74 L315.91,60.65 L316.24,60.55 L316.57,60.46 L316.90,60.37 L317.23,60.27 L317.56,60.18 L317.90,60.09 L318.23,59.99 L318.56,59.90 L318.89,59.81 L319.22,59.71 L319.55,59.62 L319.88,59.53 L320.22,59.44 L320.55,59.34 L320.88,59.25 L321.21,59.16 L321.54,59.06 L321.87,58.97 L322.20,58.88 L322.54,58.78 L322.87,58.69 L323.20,58.60 L323.53,58.51 L323.86,58.41 L324.19,58.32 L324.52,58.23 L324.85,58.13 L325.19,58.04 L325.52,57.95 L325.85,57.86 L326.18,57.76 L326.51,57.67 L326.84,57.58 L327.17,57.49 L327.51,57.39 L327.84,57.30 L328.17,57.21 L328.50,57.12 L328.83,57.02 L329.16,56.93 L329.49,56.84 L329.83,56.75 L330.16,56.65 L330.49,56.56 L330.82,56.47 L331.15,56.38 L331.48,56.28 L331.81,56.19 L332.14,56.10 L332.48,56.01 L332.81,55.91 L333.14,55.82 L333.47,55.73 L333.80,55.64 L334.13,55.54 L334.46,55.45 L334.80,55.36 L335.13,55.27 L335.46,55.17 L335.79,55.08 L336.12,54.99 L336.45,54.90 L336.78,54.80 L337.12,54.71 L337.45,54.62 L337.78,54.53 L338.11,54.43 L338.44,54.34 L338.77,54.25 L339.10,54.16 L339.44,54.06 L339.77,53.97 L340.10,53.88 L340.43,53.79 L340.76,53.69 L341.09,53.60 L341.42,53.51 L341.75,53.42 L342.09,53.32 L342.42,53.23 L342.75,53.14 L343.08,53.04 L343.41,52.95 L343.74,52.86 L344.07,52.77 L344.41,52.67 L344.74,52.58 L345.07,52.49 L345.40,52.39 L345.73,52.30 L346.06,52.21 L346.39,52.12 L346.73,52.02 L347.06,51.93 L347.39,51.84 L347.72,51.74 L348.05,51.65 L348.38,51.56 L348.71,51.46 L349.05,51.37 L349.38,51.28 L349.71,51.18 L350.04,51.09 L350.37,51.00 L350.70,50.90 L351.03,50.81 L351.36,50.72 L351.70,50.62 L352.03,50.53 L352.36,50.44 L352.69,50.34 L353.02,50.25 L353.35,50.16 L353.68,50.06 L354.02,49.97 L354.35,49.88 L354.68,49.78 L355.01,49.69 L355.34,49.60 L355.67,49.50 L356.00,49.41 L356.34,49.32 L356.67,49.22 L357.00,49.13 L357.33,49.04 L357.66,48.95 L357.99,48.85 L358.32,48.76 L358.66,48.67 L358.99,48.58 L359.32,48.48 L359.65,48.39 L359.98,48.30 L360.31,48.21 L360.64,48.11 L360.97,48.02 L361.31,47.93 L361.64,47.84 L361.97,47.74 L362.30,47.65 L362.63,47.56 L362.96,47.47 L363.29,47.37 L363.63,47.28 L363.96,47.19 L364.29,47.10 L364.62,47.01 L364.95,46.91 L365.28,46.82 L365.61,46.73 L365.95,46.64 L366.28,46.55 L366.61,46.46 L366.94,46.36 L367.27,46.27 L367.60,46.18 L367.93,46.09 L368.26,46.00 L368.60,45.91 L368.93,45.81 L369.26,45.72 L369.59,45.63 L369.92,45.54 L370.25,45.45 L370.58,45.36 L370.92,45.27 L371.25,45.17 L371.58,45.08 L371.91,44.99 L372.24,44.90 L372.57,44.81 L372.90,44.72 L373.24,44.63 L373.57,44.54 L373.90,44.45 L374.23,44.36 L374.56,44.26 L374.89,44.17 L375.22,44.08 L375.56,43.99 L375.89,43.90 L376.22,43.81 L376.55,43.72 L376.88,43.63 L377.21,43.54 L377.54,43.45 L377.87,43.36 L378.21,43.27 L378.54,43.18 L378.87,43.09 L379.20,43.00 L379.53,42.91 L379.86,42.82 L380.19,42.73 L380.53,42.64 L380.86,42.55 L381.19,42.46 L381.52,42.37 L381.85,42.28 L382.18,42.19 L382.51,42.10 L382.85,42.01 L383.18,41.92 L383.51,41.83 L383.84,41.74 L384.17,41.65 L384.50,41.56 L384.83,41.47 L385.17,41.38 L385.50,41.29 L385.83,41.20 L386.16,41.11 L386.49,41.02 L386.82,40.93 L387.15,40.84 L387.48,40.75 L387.82,40.66 L388.15,40.57 L388.48,40.48 L388.81,40.39 L389.14,40.30 L389.47,40.21 L389.80,40.12 L390.14,40.04 L390.47,39.95 L390.80,39.86 L391.13,39.77 L391.46,39.68 L391.79,39.59 L392.12,39.50 L392.46,39.41 L392.79,39.32 L393.12,39.23 L393.45,39.15 L393.78,39.06 L394.11,38.97 L394.44,38.88 L394.78,38.79 L395.11,38.70 L395.44,38.61 L395.77,38.53 L396.10,38.44 L396.43,38.35 L396.76,38.26 L397.09,38.17 L397.43,38.08 L397.76,37.99 L398.09,37.91 L398.42,37.82 L398.75,37.73 L399.08,37.64 L399.41,37.55 L399.75,37.47 L400.08,37.38 L400.41,37.29 L400.74,37.20 L401.07,37.11 L401.40,37.03 L401.73,36.94 L402.07,36.85 L402.40,36.76 L402.73,36.67 L403.06,36.59 L403.39,36.50 L403.72,36.41 L404.05,36.32 L404.38,36.23 L404.72,36.15 L405.05,36.06 L405.38,35.97 L405.71,35.88 L406.04,35.80 L406.37,35.71 L406.70,35.62 L407.04,35.53 L407.37,35.45 L407.70,35.36 L408.03,35.27 L408.36,35.19 L408.69,35.10 L409.02,35.01 L409.36,34.92 L409.69,34.84 L410.02,34.75 L410.35,34.66 L410.68,34.58 L411.01,34.49 L411.34,34.40 L411.68,34.31 L412.01,34.23 L412.34,34.14 L412.67,34.05 L413.00,33.97 L413.33,33.88 L413.66,33.79 L413.99,33.71 L414.33,33.62 L414.66,33.53 L414.99,33.45 L415.32,33.36 L415.65,33.27 L415.98,33.19 L416.31,33.10 L416.65,33.01 L416.98,32.93 L417.31,32.84 L417.64,32.75 L417.97,32.67 L418.30,32.58 L418.63,32.50 L418.97,32.41 L419.30,32.32 L419.63,32.24 L419.96,32.15 L420.29,32.06 L420.62,31.98 L420.95,31.89 L421.29,31.81 L421.62,31.72 L421.95,31.63 L422.28,31.55 L422.61,31.46 L422.94,31.38 L423.27,31.29 L423.60,31.20 L423.94,31.12 L424.27,31.03 L424.60,30.95 L424.93,30.86 L425.26,30.78 L425.59,30.69 L425.92,30.61 L426.26,30.52 L426.59,30.43 L426.92,30.35 L427.25,30.26 L427.58,30.18 L427.91,30.09 L428.24,30.01 L428.58,29.92 L428.91,29.84 L429.24,29.75 L429.57,29.67 L429.90,29.58 L430.23,29.50 L430.56,29.41 L430.90,29.32 L431.23,29.24 L431.56,29.15 L431.89,29.07 L432.22,28.98 L432.55,28.90 L432.88,28.81 L433.21,28.73 L433.55,28.64 L433.88,28.56 L434.21,28.48 L434.54,28.39 L434.87,28.31 L435.20,28.22 L435.53,28.14 L435.87,28.05 L436.20,27.97 L436.53,27.88 L436.86,27.80 L437.19,27.71 L437.52,27.63 L437.85,27.54 L438.19,27.46 L438.52,27.38 L438.85,27.29 L439.18,27.21 L439.51,27.12 L439.84,27.04 L440.17,26.95 L440.50,26.87 L440.84,26.78 L441.17,26.70 L441.50,26.62 L441.83,26.53 L442.16,26.45 L442.49,26.36 L442.82,26.28 L443.16,26.20 L443.49,26.11 L443.82,26.03 L444.15,25.94 L444.48,25.86 L444.81,25.78 L445.14,25.69 L445.48,25.61 L445.81,25.53 L446.14,25.44 L446.47,25.36 L446.80,25.27 L447.13,25.19 L447.46,25.11 L447.80,25.02 L448.13,24.94 L448.46,24.86 L448.79,24.77 L449.12,24.69 L449.45,24.61 L449.78,24.52 L450.11,24.44 L450.45,24.35 L450.78,24.27 L451.11,24.19 L451.44,24.11 L451.77,24.02 L452.10,23.94 L452.43,23.86 L452.77,23.77 L453.10,23.69 L453.43,23.61 L453.76,23.52" stroke="#ff0000" stroke-dasharray="28.2 11.2"/>
<path d="M12.50,192.92 L12.61,192.90 L12.72,192.87 L12.83,192.85 L12.94,192.83 L13.05,192.81 L13.16,192.78 L13.27,192.76 L13.38,192.74 L13.49,192.71 L13.60,192.69 L13.71,192.67 L13.82,192.65 L13.93,192.62 L14.04,192.60 L14.15,192.58 L14.26,192.56 L14.37,192.53 L14.48,192.51 L14.59,192.49 L14.70,192.47 L14.81,192.44 L14.92,192.42 L15.02,192.40 L15.13,192.38 L15.24,192.35 L15.35,192.33 L15.46,192.31 L15.57,192.29 L15.68,192.26 L15.79,192.24 L15.90,192.22 L16.01,192.20 L16.12,192.17 L16.23,192.15 L16.34,192.13 L16.45,192.11 L16.56,192.09 L16.67,192.06 L16.78,192.04 L16.89,192.02 L17.00,192.00 L17.11,191.98 L17.22,191.95 L17.33,191.93 L17.44,191.91 L17.55,191.89 L17.66,191.87 L17.77,191.84 L17.88,191.82 L17.99,191.80 L18.10,191.78 L18.21,191.76 L18.32,191.73 L18.43,191.71 L18.54,191.69 L18.65,191.67 L18.76,191.65 L18.87,191.63 L18.98,191.60 L19.09,191.58 L19.20,191.56 L19.31,191.54 L19.42,191.52 L19.53,191.50 L19.64,191.47 L19.75,191.45 L19.85,191.43 L19.96,191.41 L20.07,191.39 L20.18,191.37 L20.29,191.35 L20.40,191.32 L20.51,191.30 L20.62,191.28 L20.73,191.26 L20.84,191.24 L20.95,191.22 L21.06,191.20 L21.17,191.17 L21.28,191.15 L21.39,191.13 L21.50,191.11 L21.61,191.09 L21.72,191.07 L21.83,191.05 L21.94,191.03 L22.05,191.00 L22.16,190.98 L22.27,190.96 L22.38,190.94 L22.49,190.92 L22.60,190.90 L22.71,190.88 L22.82,190.86 L22.93,190.84 L23.04,190.81 L23.15,190.79 L23.26,190.77 L23.37,190.75 L23.48,190.73 L23.59,190.71 L23.70,190.69 L23.81,190.67 L23.92,190.65 L24.03,190.63 L24.14,190.61 L24.25,190.58 L24.36,190.56 L24.47,190.54 L24.58,190.52 L24.69,190.50 L24.79,190.48 L24.90,190.46 L25.01,190.44 L25.12,190.42 L25.23,190.40 L25.34,190.38 L25.45,190.36 L25.56,190.34 L25.67,190.32 L25.78,190.29 L25.89,190.27 L26.00,190.25 L26.11,190.23 L26.22,190.21 L26.33,190.19 L26.44,190.17 L26.55,190.15 L26.66,190.13 L26.77,190.11 L26.88,190.09 L26.99,190.07 L27.10,190.05 L27.21,190.03 L27.32,190.01 L27.43,189.99 L27.54,189.97 L27.65,189.95 L27.76,189.93 L27.87,189.91 L27.98,189.89 L28.09,189.87 L28.20,189.85 L28.31,189.83 L28.42,189.81 L28.53,189.79 L28.64,189.76 L28.75,189.74 L28.86,189.72 L28.97,189.70 L29.08,189.68 L29.19,189.66 L29.30,189.64 L29.41,189.62 L29.52,189.60 L29.62,189.58 L29.73,189.56 L29.84,189.54 L29.95,189.52 L30.06,189.50 L30.17,189.48 L30.28,189.46 L30.39,189.44 L30.50,189.42 L30.61,189.40 L30.72,189.38 L30.83,189.36 L30.94,189.34 L31.05,189.32 L31.16,189.30 L31.27,189.28 L31.38,189.26 L31.49,189.25 L31.60,189.23 L31.71,189.21 L31.82,189.19 L31.93,189.17 L32.04,189.15 L32.15,189.13 L32.26,189.11 L32.37,189.09 L32.48,189.07 L32.59,189.05 L32.70,189.03 L32.81,189.01 L32.92,188.99 L33.03,188.97 L33.14,188.95 L33.25,188.93 L33.36,188.91 L33.47,188.89 L33.58,188.87 L33.69,188.85 L33.80,188.83 L33.91,188.81 L34.02,188.79 L34.13,188.77 L34.24,188.75 L34.35,188.73 L34.45,188.72 L34.56,188.70 L34.67,188.68 L34.78,188.66 L34.89,188.64 L35.00,188.62 L35.11,188.60 L35.22,188.58 L35.33,188.56 L35.44,188.54 L35.55,188.52 L35.66,188.50 L35.77,188.48 L35.88,188.46 L35.99,188.44 L36.10,188.43 L36.21,188.41 L36.32,188.39 L36.43,188.37 L36.54,188.35 L36.65,188.33 L36.76,188.31 L36.87,188.29 L36.98,188.27 L37.09,188.25 L37.20,188.23 L37.31,188.21 L37.42,188.20 L37.53,188.18 L37.64,188.16 L37.75,188.14 L37.86,188.12 L37.97,188.10 L38.08,188.08 L38.19,188.06 L38.30,188.04 L38.41,188.02 L38.52,188.00 L38.63,187.99 L38.74,187.97 L38.85,187.95 L38.96,187.93 L39.07,187.91 L39.18,187.89 L39.29,187.87 L39.39,187.85 L39.50,187.83 L39.61,187.82 L39.72,187.80 L39.83,187.78 L39.94,187.76 L40.05,187.74 L40.16,187.72 L40.27,187.70 L40.38,187.68 L40.49,187.67 L40.60,187.65 L40.71,187.63 L40.82,187.61 L40.93,187.59 L41.04,187.57 L41.15,187.55 L41.26,187.53 L41.37,187.52 L41.48,187.50 L41.59,187.48 L41.70,187.46 L41.81,187.44 L41.92,187.42 L42.03,187.40 L42.14,187.38 L42.25,187.37 L42.36,187.35 L42.47,187.33 L42.58,187.31 L42.69,187.29 L42.80,187.27 L42.91,187.25 L43.02,187.24 L43.13,187.22 L43.24,187.20 L43.35,187.18 L43.46,187.16 L43.57,187.14 L43.68,187.13 L43.79,187.11 L43.90,187.09 L44.01,187.07 L44.12,187.05 L44.22,187.03 L44.33,187.02 L44.44,187.00 L44.55,186.98 L44.66,186.96 L44.77,186.94 L44.88,186.92 L44.99,186.90 L45.10,186.89 L45.21,186.87 L45.32,186.85 L45.43,186.83 L45.54,186.81 L45.65,186.80 L45.76,186.78 L45.87,186.76 L45.98,186.74 L46.09,186.72 L46.20,186.70 L46.31,186.69 L46.42,186.67 L46.53,186.65 L46.64,186.63 L46.75,186.61 L46.86,186.60 L46.97,186.58 L47.08,186.56 L47.19,186.54 L47.30,186.52 L47.41,186.50 L47.52,186.49 L47.63,186.47 L47.74,186.45 L47.85,186.43 L47.96,186.41 L48.07,186.40 L48.18,186.38 L48.29,186.36 L48.40,186.34 L48.51,186.32 L48.62,186.31 L48.73,186.29 L48.84,186.27 L48.95,186.25 L49.06,186.23 L49.16,186.22 L49.27,186.20 L49.38,186.18 L49.49,186.16 L49.60,186.14 L49.71,186.13 L49.82,186.11 L49.93,186.09 L50.04,186.07 L50.15,186.06 L50.26,186.04 L50.37,186.02 L50.48,186.00 L50.59,185.98 L50.70,185.97 L50.81,185.95 L50.92,185.93 L51.03,185.91 L51.14,185.89 L51.25,185.88 L51.36,185.86 L51.47,185.84 L51.58,185.82 L51.69,185.81 L51.80,185.79 L51.91,185.77 L52.02,185.75 L52.13,185.74 L52.24,185.72 L52.35,185.70 L52.46,185.68 L52.57,185.66 L52.68,185.65 L52.79,185.63 L52.90,185.61 L53.01,185.59 L53.12,185.58 L53.23,185.56 L53.34,185.54 L53.45,185.52 L53.56,185.51 L53.67,185.49 L53.78,185.47 L53.89,185.45 L53.99,185.44 L54.10,185.42 L54.21,185.40 L54.32,185.38 L54.43,185.37 L54.54,185.35 L54.65,185.33 L54.76,185.31 L54.87,185.30 L54.98,185.28 L55.09,185.26 L55.20,185.24 L55.31,185.23 L55.42,185.21 L55.53,185.19 L55.64,185.17 L55.75,185.16 L55.86,185.14 L55.97,185.12 L56.08,185.10 L56.19,185.09 L56.30,185.07 L56.41,185.05 L56.74,185.00 L57.07,184.95 L57.40,184.90 L57.73,184.84 L58.06,184.79 L58.39,184.74 L58.72,184.69 L59.06,184.64 L59.39,184.59 L59.72,184.53 L60.05,184.48 L60.38,184.43 L60.71,184.38 L61.04,184.33 L61.37,184.28 L61.70,184.23 L62.03,184.18 L62.36,184.12 L62.69,184.07 L63.02,184.02 L63.35,183.97 L63.69,183.92 L64.02,183.87 L64.35,183.82 L64.68,183.77 L65.01,183.72 L65.34,183.67 L65.67,183.62 L66.00,183.57 L66.33,183.52 L66.66,183.47 L66.99,183.42 L67.32,183.37 L67.65,183.32 L67.98,183.27 L68.32,183.22 L68.65,183.17 L68.98,183.12 L69.31,183.07 L69.64,183.02 L69.97,182.97 L70.30,182.92 L70.63,182.87 L70.96,182.82 L71.29,182.77 L71.62,182.72 L71.95,182.68 L72.28,182.63 L72.61,182.58 L72.94,182.53 L73.28,182.48 L73.61,182.43 L73.94,182.38 L74.27,182.33 L74.60,182.29 L74.93,182.24 L75.26,182.19 L75.59,182.14 L75.92,182.09 L76.25,182.04 L76.58,181.99 L76.91,181.95 L77.24,181.90 L77.57,181.85 L77.91,181.80 L78.24,181.75 L78.57,181.71 L78.90,181.66 L79.23,181.61 L79.56,181.56 L79.89,181.52 L80.22,181.47 L80.55,181.42 L80.88,181.37 L81.21,181.33 L81.54,181.28 L81.87,181.23 L82.20,181.18 L82.54,181.14 L82.87,181.09 L83.20,181.04 L83.53,180.99 L83.86,180.95 L84.19,180.90 L84.52,180.85 L84.85,180.81 L85.18,180.76 L85.51,180.71 L85.84,180.67 L86.17,180.62 L86.50,180.57 L86.83,180.53 L87.16,180.48 L87.50,180.43 L87.83,180.39 L88.16,180.34 L88.49,180.29 L88.82,180.25 L89.15,180.20 L89.48,180.15 L89.81,180.11 L90.14,180.06 L90.47,180.02 L90.80,179.97 L91.13,179.92 L91.46,179.88 L91.79,179.83 L92.13,179.79 L92.46,179.74 L92.79,179.70 L93.12,179.65 L93.45,179.60 L93.78,179.56 L94.11,179.51 L94.44,179.47 L94.77,179.42 L95.10,179.38 L95.43,179.33 L95.76,179.29 L96.09,179.24 L96.42,179.19 L96.76,179.15 L97.09,179.10 L97.42,179.06 L97.75,179.01 L98.08,178.97 L98.41,178.92 L98.74,178.88 L99.07,178.83 L99.40,178.79 L99.73,178.74 L100.06,178.70 L100.39,178.66 L100.72,178.61 L101.05,178.57 L101.38,178.52 L101.72,178.48 L102.05,178.43 L102.38,178.39 L102.71,178.34 L103.04,178.30 L103.37,178.25 L103.70,178.21 L104.03,178.17 L104.36,178.12 L104.69,178.08 L105.02,178.03 L105.35,177.99 L105.68,177.94 L106.01,177.90 L106.35,177.86 L106.68,177.81 L107.01,177.77 L107.34,177.72 L107.67,177.68 L108.00,177.64 L108.33,177.59 L108.66,177.55 L108.99,177.51 L109.32,177.46 L109.65,177.42 L109.98,177.38 L110.31,177.33 L110.64,177.29 L110.98,177.24 L111.31,177.20 L111.64,177.16 L111.97,177.11 L112.30,177.07 L112.63,177.03 L112.96,176.98 L113.29,176.94 L113.62,176.90 L113.95,176.85 L114.28,176.81 L114.61,176.77 L114.94,176.73 L115.27,176.68 L115.61,176.64 L115.94,176.60 L116.27,176.55 L116.60,176.51 L116.93,176.47 L117.26,176.43 L117.59,176.38 L117.92,176.34 L118.25,176.30 L118.58,176.25 L118.91,176.21 L119.24,176.17 L119.57,176.13 L119.90,176.08 L120.23,176.04 L120.57,176.00 L120.90,175.96 L121.23,175.91 L121.56,175.87 L121.89,175.83 L122.22,175.79 L122.55,175.75 L122.88,175.70 L123.21,175.66 L123.54,175.62 L123.87,175.58 L124.20,175.53 L124.53,175.49 L124.86,175.45 L125.20,175.41 L125.53,175.37 L125.86,175.32 L126.19,175.28 L126.52,175.24 L126.85,175.20 L127.18,175.16 L127.51,175.12 L127.84,175.07 L128.17,175.03 L128.50,174.99 L128.83,174.95 L129.16,174.91 L129.49,174.87 L129.83,174.82 L130.16,174.78 L130.49,174.74 L130.82,174.70 L131.15,174.66 L131.48,174.62 L131.81,174.58 L132.14,174.53 L132.47,174.49 L132.80,174.45 L133.13,174.41 L133.46,174.37 L133.79,174.33 L134.12,174.29 L134.45,174.25 L134.79,174.20 L135.12,174.16 L135.45,174.12 L135.78,174.08 L136.11,174.04 L136.44,174.00 L136.77,173.96 L137.10,173.92 L137.43,173.88 L137.76,173.84 L138.09,173.80 L138.42,173.75 L138.75,173.71 L139.08,173.67 L139.42,173.63 L139.75,173.59 L140.08,173.55 L140.41,173.51 L140.74,173.47 L141.07,173.43 L141.40,173.39 L141.73,173.35 L142.06,173.31 L142.39,173.27 L142.72,173.23 L143.05,173.19 L143.38,173.15 L143.71,173.11 L144.05,173.07 L144.38,173.03 L144.71,172.99 L145.04,172.95 L145.37,172.91 L145.70,172.87 L146.03,172.83 L146.36,172.78 L146.69,172.74 L147.02,172.70 L147.35,172.66 L147.68,172.62 L148.01,172.58 L148.34,172.54 L148.67,172.50 L149.01,172.47 L149.34,172.43 L149.67,172.39 L150.00,172.35 L150.33,172.31 L150.66,172.27 L150.99,172.23 L151.32,172.19 L151.65,172.15 L151.98,172.11 L152.31,172.07 L152.64,172.03 L152.97,171.99 L153.30,171.95 L153.64,171.91 L153.97,171.87 L154.30,171.83 L154.63,171.79 L154.96,171.75 L155.29,171.71 L155.62,171.67 L155.95,171.63 L156.28,171.59 L156.61,171.55 L156.94,171.52 L157.27,171.48 L157.60,171.44 L157.93,171.40 L158.27,171.36 L158.60,171.32 L158.93,171.28 L159.26,171.24 L159.59,171.20 L159.92,171.16 L160.25,171.12 L160.58,171.08 L160.91,171.05 L161.24,171.01 L161.57,170.97 L161.90,170.93 L162.23,170.89 L162.56,170.85 L162.89,170.81 L163.23,170.77 L163.56,170.73 L163.89,170.70 L164.22,170.66 L164.55,170.62 L164.88,170.58 L165.21,170.54 L165.54,170.50 L165.87,170.46 L166.20,170.43 L166.53,170.39 L166.86,170.35 L167.19,170.31 L167.52,170.27 L167.86,170.23 L168.19,170.19 L168.52,170.16 L168.85,170.12 L169.18,170.08 L169.51,170.04 L169.84,170.00 L170.17,169.96 L170.50,169.93 L170.83,169.89 L171.16,169.85 L171.49,169.81 L171.82,169.77 L172.15,169.73 L172.49,169.70 L172.82,169.66 L173.15,169.62 L173.48,169.58 L173.81,169.54 L174.14,169.51 L174.47,169.47 L174.80,169.43 L175.13,169.39 L175.46,169.35 L175.79,169.32 L176.12,169.28 L176.45,169.24 L176.78,169.20 L177.11,169.16 L177.45,169.13 L177.78,169.09 L178.11,169.05 L178.44,169.01 L178.77,168.97 L179.10,168.94 L179.43,168.90 L179.76,168.86 L180.09,168.82 L180.42,168.79 L180.75,168.75 L181.08,168.71 L181.41,168.67 L181.74,168.64 L182.08,168.60 L182.41,168.56 L182.74,168.52 L183.07,168.48 L183.40,168.45 L183.73,168.41 L184.06,168.37 L184.39,168.34 L184.72,168.30 L185.05,168.26 L185.38,168.22 L185.71,168.19 L186.04,168.15 L186.37,168.11 L186.71,168.07 L187.04,168.04 L187.37,168.00 L187.70,167.96 L188.03,167.92 L188.36,167.89 L188.69,167.85 L189.02,167.81 L189.35,167.78 L189.68,167.74 L190.01,167.70 L190.34,167.66 L190.67,167.63 L191.00,167.59 L191.33,167.55 L191.67,167.52 L192.00,167.48 L192.33,167.44 L192.66,167.41 L192.99,167.37 L193.32,167.33 L193.65,167.29 L193.98,167.26 L194.31,167.22 L194.64,167.18 L194.97,167.15 L195.30,167.11 L195.63,167.07 L195.96,167.04 L196.30,167.00 L196.63,166.96 L196.96,166.93 L197.29,166.89 L197.62,166.85 L197.95,166.82 L198.28,166.78 L198.61,166.74 L198.94,166.71 L199.27,166.67 L199.60,166.63 L199.93,166.60 L200.26,166.56 L200.59,166.52 L200.93,166.49 L201.26,166.45 L201.59,166.41 L201.92,166.38 L202.25,166.34 L202.58,166.31 L202.91,166.27 L203.24,166.23 L203.57,166.20 L203.90,166.16 L204.23,166.12 L204.56,166.09 L204.89,166.05 L205.22,166.01 L205.55,165.98 L205.89,165.94 L206.22,165.91 L206.55,165.87 L206.88,165.83 L207.21,165.80 L207.54,165.76 L207.87,165.73 L208.20,165.69 L208.53,165.65 L208.86,165.62 L209.19,165.58 L209.52,165.54 L209.85,165.51 L210.18,165.47 L210.52,165.44 L210.85,165.40 L211.18,165.36 L211.51,165.33 L211.84,165.29 L212.17,165.26 L212.50,165.22 L212.83,165.19 L213.16,165.15 L213.49,165.11 L213.82,165.08 L214.15,165.04 L214.48,165.01 L214.81,164.97 L215.15,164.93 L215.48,164.90 L215.81,164.86 L216.14,164.83 L216.47,164.79 L216.80,164.76 L217.13,164.72 L217.46,164.68 L217.79,164.65 L218.12,164.61 L218.45,164.58 L218.78,164.54 L219.11,164.51 L219.44,164.47 L219.77,164.44 L220.11,164.40 L220.44,164.36 L220.77,164.33 L221.10,164.29 L221.43,164.26 L221.76,164.22 L222.09,164.19 L222.42,164.15 L222.75,164.12 L223.08,164.08 L223.41,164.05 L223.74,164.01 L224.07,163.98 L224.40,163.94 L224.74,163.90 L225.07,163.87 L225.40,163.83 L225.73,163.80 L226.06,163.76 L226.39,163.73 L226.72,163.69 L227.05,163.66 L227.38,163.62 L227.71,163.59 L228.04,163.55 L228.37,163.52 L228.70,163.48 L229.03,163.45 L229.37,163.41 L229.70,163.38 L230.03,163.34 L230.36,163.31 L230.69,163.27 L231.02,163.24 L231.35,163.20 L231.68,163.17 L232.01,163.13 L232.34,163.10 L232.67,163.06 L233.00,163.03 L233.33,162.99 L233.66,162.96 L234.00,162.92 L234.33,162.89 L234.66,162.85 L234.99,162.82 L235.32,162.78 L235.65,162.75 L235.98,162.71 L236.31,162.68 L236.64,162.64 L236.97,162.61 L237.30,162.57 L237.63,162.54 L237.96,162.51 L238.29,162.47 L238.62,162.44 L238.96,162.40 L239.29,162.37 L239.62,162.33 L239.95,162.30 L240.28,162.26 L240.61,162.23 L240.94,162.19 L241.27,162.16 L241.60,162.12 L241.93,162.09 L242.26,162.06 L242.59,162.02 L242.92,161.99 L243.25,161.95 L243.59,161.92 L243.92,161.88 L244.25,161.85 L244.58,161.81 L244.91,161.78 L245.24,161.75 L245.57,161.71 L245.90,161.68 L246.23,161.64 L246.56,161.61 L246.89,161.57 L247.22,161.54 L247.55,161.51 L247.88,161.47 L248.22,161.44 L248.55,161.40 L248.88,161.37 L249.21,161.33 L249.54,161.30 L249.87,161.27 L250.20,161.23 L250.53,161.20 L250.86,161.16 L251.19,161.13 L251.52,161.09 L251.85,161.06 L252.18,161.03 L252.51,160.99 L252.84,160.96 L253.18,160.92 L253.51,160.89 L253.84,160.86 L254.17,160.82 L254.50,160.79 L254.83,160.75 L255.16,160.72 L255.49,160.69 L255.82,160.65 L256.15,160.62 L256.48,160.58 L256.81,160.55 L257.14,160.52 L257.47,160.48 L257.81,160.45 L258.14,160.41 L258.47,160.38 L258.80,160.35 L259.13,160.31 L259.46,160.28 L259.79,160.25 L260.12,160.21 L260.45,160.18 L260.78,160.14 L261.11,160.11 L261.44,160.08 L261.77,160.04 L262.10,160.01 L262.44,159.98 L262.77,159.94 L263.10,159.91 L263.43,159.87 L263.76,159.84 L264.09,159.81 L264.42,159.77 L264.75,159.74 L265.08,159.71 L265.41,159.67 L265.74,159.64 L266.07,159.61 L266.40,159.57 L266.73,159.54 L267.06,159.51 L267.40,159.47 L267.73,159.44 L268.06,159.40 L268.39,159.37 L268.72,159.34 L269.05,159.30 L269.38,159.27 L269.71,159.24 L270.04,159.20 L270.37,159.17 L270.70,159.14 L271.03,159.10 L271.36,159.07 L271.69,159.04 L272.03,159.00 L272.36,158.97 L272.69,158.94 L273.02,158.90 L273.35,158.87 L273.68,158.84 L274.01,158.80 L274.34,158.77 L274.67,158.74 L275.00,158.70 L275.33,158.67 L275.66,158.64 L275.99,158.60 L276.32,158.57 L276.66,158.54 L276.99,158.50 L277.32,158.47 L277.65,158.44 L277.98,158.41 L278.31,158.37 L278.64,158.34 L278.97,158.31 L279.30,158.27 L279.63,158.24 L279.96,158.21 L280.29,158.17 L280.62,158.14 L280.95,158.11 L281.28,158.07 L281.62,158.04 L281.95,158.01 L282.28,157.98 L282.61,157.94 L282.94,157.91 L283.27,157.88 L283.60,157.84 L283.93,157.81 L284.26,157.78 L284.59,157.74 L284.92,157.71 L285.25,157.68 L285.58,157.65 L285.91,157.61 L286.25,157.58 L286.58,157.55 L286.91,157.51 L287.24,157.48 L287.57,157.45 L287.90,157.42 L288.23,157.38 L288.56,157.35 L288.89,157.32 L289.22,157.29 L289.55,157.25 L289.88,157.22 L290.21,157.19 L290.54,157.15 L290.88,157.12 L291.21,157.09 L291.54,157.06 L291.87,157.02 L292.20,156.99 L292.53,156.96 L292.86,156.93 L293.19,156.89 L293.52,156.86 L293.85,156.83 L294.18,156.80 L294.51,156.76 L294.84,156.73 L295.17,156.70 L295.50,156.67 L295.84,156.63 L296.17,156.60 L296.50,156.57 L296.83,156.54 L297.16,156.50 L297.49,156.47 L297.82,156.44 L298.15,156.41 L298.48,156.37 L298.81,156.34 L299.14,156.31 L299.47,156.28 L299.80,156.24 L300.13,156.21 L300.47,156.18 L300.80,156.15 L301.13,156.11 L301.46,156.08 L301.79,156.05 L302.12,156.02 L302.45,155.98 L302.78,155.95 L303.11,155.92 L303.44,155.89 L303.77,155.86 L304.10,155.82 L304.43,155.79 L304.76,155.76 L305.10,155.73 L305.43,155.69 L305.76,155.66 L306.09,155.63 L306.42,155.60 L306.75,155.56 L307.08,155.53 L307.41,155.50 L307.74,155.47 L308.07,155.44 L308.40,155.40 L308.73,155.37 L309.06,155.34 L309.39,155.31 L309.72,155.28 L310.06,155.24 L310.39,155.21 L310.72,155.18 L311.05,155.15 L311.38,155.12 L311.71,155.08 L312.04,155.05 L312.37,155.02 L312.70,154.99 L313.03,154.96 L313.36,154.92 L313.69,154.89 L314.02,154.86 L314.35,154.83 L314.69,154.80 L315.02,154.76 L315.35,154.73 L315.68,154.70 L316.01,154.67 L316.34,154.64 L316.67,154.60 L317.00,154.57 L317.33,154.54 L317.66,154.51 L317.99,154.48 L318.32,154.44 L318.65,154.41 L318.98,154.38 L319.32,154.35 L319.65,154.32 L319.98,154.29 L320.31,154.25 L320.64,154.22 L320.97,154.19 L321.30,154.16 L321.63,154.13 L321.96,154.10 L322.29,154.06 L322.62,154.03 L322.95,154.00 L323.28,153.97 L323.61,153.94 L323.94,153.90 L324.28,153.87 L324.61,153.84 L324.94,153.81 L325.27,153.78 L325.60,153.75 L325.93,153.72 L326.26,153.68 L326.59,153.65 L326.92,153.62 L327.25,153.59 L327.58,153.56 L327.91,153.53 L328.24,153.49 L328.57,153.46 L328.91,153.43 L329.24,153.40 L329.57,153.37 L329.90,153.34 L330.23,153.30 L330.56,153.27 L330.89,153.24 L331.22,153.21 L331.55,153.18 L331.88,153.15 L332.21,153.12 L332.54,153.08 L332.87,153.05 L333.20,153.02 L333.54,152.99 L333.87,152.96 L334.20,152.93 L334.53,152.90 L334.86,152.86 L335.19,152.83 L335.52,152.80 L335.85,152.77 L336.18,152.74 L336.51,152.71 L336.84,152.68 L337.17,152.65 L337.50,152.61 L337.83,152.58 L338.16,152.55 L338.50,152.52 L338.83,152.49 L339.16,152.46 L339.49,152.43 L339.82,152.40 L340.15,152.36 L340.48,152.33 L340.81,152.30 L341.14,152.27 L341.47,152.24 L341.80,152.21 L342.13,152.18 L342.46,152.15 L342.79,152.11 L343.13,152.08 L343.46,152.05 L343.79,152.02 L344.12,151.99 L344.45,151.96 L344.78,151.93 L345.11,151.90 L345.44,151.87 L345.77,151.83 L346.10,151.80 L346.43,151.77 L346.76,151.74 L347.09,151.71 L347.42,151.68 L347.76,151.65 L348.09,151.62 L348.42,151.59 L348.75,151.56 L349.08,151.52 L349.41,151.49 L349.74,151.46 L350.07,151.43 L350.40,151.40 L350.73,151.37 L351.06,151.34 L351.39,151.31 L351.72,151.28 L352.05,151.25 L352.39,151.21 L352.72,151.18 L353.05,151.15 L353.38,151.12 L353.71,151.09 L354.04,151.06 L354.37,151.03 L354.70,151.00 L355.03,150.97 L355.36,150.94 L355.69,150.91 L356.02,150.88 L356.35,150.84 L356.68,150.81 L357.01,150.78 L357.35,150.75 L357.68,150.72 L358.01,150.69 L358.34,150.66 L358.67,150.63 L359.00,150.60 L359.33,150.57 L359.66,150.54 L359.99,150.51 L360.32,150.48 L360.65,150.44 L360.98,150.41 L361.31,150.38 L361.64,150.35 L361.98,150.32 L362.31,150.29 L362.64,150.26 L362.97,150.23 L363.30,150.20 L363.63,150.17 L363.96,150.14 L364.29,150.11 L364.62,150.08 L364.95,150.05 L365.28,150.02 L365.61,149.99 L365.94,149.95 L366.27,149.92 L366.61,149.89 L366.94,149.86 L367.27,149.83 L367.60,149.80 L367.93,149.77 L368.26,149.74 L368.59,149.71 L368.92,149.68 L369.25,149.65 L369.58,149.62 L369.91,149.59 L370.24,149.56 L370.57,149.53 L370.90,149.50 L371.23,149.47 L371.57,149.44 L371.90,149.41 L372.23,149.38 L372.56,149.34 L372.89,149.31 L373.22,149.28 L373.55,149.25 L373.88,149.22 L374.21,149.19 L374.54,149.16 L374.87,149.13 L375.20,149.10 L375.53,149.07 L375.86,149.04 L376.20,149.01 L376.53,148.98 L376.86,148.95 L377.19,148.92 L377.52,148.89 L377.85,148.86 L378.18,148.83 L378.51,148.80 L378.84,148.77 L379.17,148.74 L379.50,148.71 L379.83,148.68 L380.16,148.65 L380.49,148.62 L380.83,148.59 L381.16,148.56 L381.49,148.53 L381.82,148.50 L382.15,148.47 L382.48,148.44 L382.81,148.41 L383.14,148.38 L383.47,148.35 L383.80,148.32 L384.13,148.29 L384.46,148.25 L384.79,148.22 L385.12,148.19 L385.45,148.16 L385.79,148.13 L386.12,148.10 L386.45,148.07 L386.78,148.04 L387.11,148.01 L387.44,147.98 L387.77,147.95 L388.10,147.92 L388.43,147.89 L388.76,147.86 L389.09,147.83 L389.42,147.80 L389.75,147.77 L390.08,147.74 L390.42,147.71 L390.75,147.68 L391.08,147.65 L391.41,147.62 L391.74,147.59 L392.07,147.56 L392.40,147.53 L392.73,147.50 L393.06,147.47 L393.39,147.44 L393.72,147.41 L394.05,147.38 L394.38,147.35 L394.71,147.32 L395.05,147.29 L395.38,147.26 L395.71,147.23 L396.04,147.20 L396.37,147.17 L396.70,147.14 L397.03,147.12 L397.36,147.09 L397.69,147.06 L398.02,147.03 L398.35,147.00 L398.68,146.97 L399.01,146.94 L399.34,146.91 L399.67,146.88 L400.01,146.85 L400.34,146.82 L400.67,146.79 L401.00,146.76 L401.33,146.73 L401.66,146.70 L401.99,146.67 L402.32,146.64 L402.65,146.61 L402.98,146.58 L403.31,146.55 L403.64,146.52 L403.97,146.49 L404.30,146.46 L404.64,146.43 L404.97,146.40 L405.30,146.37 L405.63,146.34 L405.96,146.31 L406.29,146.28 L406.62,146.25 L406.95,146.22 L407.28,146.19 L407.61,146.16 L407.94,146.13 L408.27,146.10 L408.60,146.07 L408.93,146.04 L409.27,146.02 L409.60,145.99 L409.93,145.96 L410.26,145.93 L410.59,145.90 L410.92,145.87 L411.25,145.84 L411.58,145.81 L411.91,145.78 L412.24,145.75 L412.57,145.72 L412.90,145.69 L413.23,145.66 L413.56,145.63 L413.89,145.60 L414.23,145.57 L414.56,145.54 L414.89,145.51 L415.22,145.48 L415.55,145.45 L415.88,145.42 L416.21,145.40 L416.54,145.37 L416.87,145.34 L417.20,145.31 L417.53,145.28 L417.86,145.25 L418.19,145.22 L418.52,145.19 L418.86,145.16 L419.19,145.13 L419.52,145.10 L419.85,145.07 L420.18,145.04 L420.51,145.01 L420.84,144.98 L421.17,144.95 L421.50,144.92 L421.83,144.90 L422.16,144.87 L422.49,144.84 L422.82,144.81 L423.15,144.78 L423.49,144.75 L423.82,144.72 L424.15,144.69 L424.48,144.66 L424.81,144.63 L425.14,144.60 L425.47,144.57 L425.80,144.54 L426.13,144.51 L426.46,144.49 L426.79,144.46 L427.12,144.43 L427.45,144.40 L427.78,144.37 L428.11,144.34 L428.45,144.31 L428.78,144.28 L429.11,144.25 L429.44,144.22 L429.77,144.19 L430.10,144.16 L430.43,144.13 L430.76,144.11 L431.09,144.08 L431.42,144.05 L431.75,144.02 L432.08,143.99 L432.41,143.96 L432.74,143.93 L433.08,143.90 L433.41,143.87 L433.74,143.84 L434.07,143.81 L434.40,143.78 L434.73,143.76 L435.06,143.73 L435.39,143.70 L435.72,143.67 L436.05,143.64 L436.38,143.61 L436.71,143.58 L437.04,143.55 L437.37,143.52 L437.71,143.49 L438.04,143.47 L438.37,143.44 L438.70,143.41 L439.03,143.38 L439.36,143.35 L439.69,143.32 L440.02,143.29 L440.35,143.26 L440.68,143.23 L441.01,143.20 L441.34,143.18 L441.67,143.15 L442.00,143.12 L442.33,143.09 L442.67,143.06 L443.00,143.03 L443.33,143.00 L443.66,142.97 L443.99,142.94 L444.32,142.91 L444.65,142.89 L444.98,142.86 L445.31,142.83 L445.64,142.80 L445.97,142.77 L446.30,142.74 L446.63,142.71 L446.96,142.68 L447.30,142.65 L447.63,142.63 L447.96,142.60 L448.29,142.57 L448.62,142.54 L448.95,142.51 L449.28,142.48 L449.61,142.45 L449.94,142.42 L450.27,142.40 L450.60,142.37 L450.93,142.34 L451.26,142.31 L451.59,142.28 L451.93,142.25 L452.26,142.22 L452.59,142.19 L452.92,142.16" stroke="#0000ff" stroke-dasharray="11.4 6.17" stroke-dashoffset="0.8"/>
<path d="M12.50,192.92 L12.61,192.80 L12.72,192.67 L12.83,192.55 L12.94,192.43 L13.05,192.31 L13.16,192.20 L13.27,192.08 L13.38,191.97 L13.49,191.86 L13.60,191.75 L13.71,191.64 L13.82,191.54 L13.93,191.44 L14.04,191.34 L14.15,191.24 L14.26,191.14 L14.37,191.05 L14.48,190.96 L14.59,190.88 L14.70,190.79 L14.81,190.71 L14.92,190.64 L15.02,190.56 L15.13,190.50 L15.24,190.43 L15.35,190.36 L15.46,190.29 L15.57,190.22 L15.68,190.15 L15.79,190.08 L15.90,190.01 L16.01,189.94 L16.12,189.88 L16.23,189.81 L16.34,189.74 L16.45,189.68 L16.56,189.62 L16.67,189.56 L16.78,189.50 L16.89,189.44 L17.00,189.39 L17.11,189.34 L17.22,189.29 L17.33,189.25 L17.44,189.21 L17.55,189.17 L17.66,189.14 L17.77,189.11 L17.88,189.08 L17.99,189.06 L18.10,189.04 L18.21,189.03 L18.32,189.03 L18.43,189.03 L18.54,189.03 L18.65,189.04 L18.76,189.05 L18.87,189.06 L18.98,189.08 L19.09,189.10 L19.20,189.12 L19.31,189.14 L19.42,189.17 L19.53,189.20 L19.64,189.23 L19.75,189.26 L19.85,189.30 L19.96,189.34 L20.07,189.37 L20.18,189.41 L20.29,189.45 L20.40,189.50 L20.51,189.54 L20.62,189.58 L20.73,189.62 L20.84,189.66 L20.95,189.71 L21.06,189.75 L21.17,189.79 L21.28,189.83 L21.39,189.88 L21.50,189.92 L21.61,189.97 L21.72,190.03 L21.83,190.08 L21.94,190.14 L22.05,190.20 L22.16,190.26 L22.27,190.32 L22.38,190.39 L22.49,190.46 L22.60,190.52 L22.71,190.59 L22.82,190.66 L22.93,190.73 L23.04,190.80 L23.15,190.87 L23.26,190.94 L23.37,191.01 L23.48,191.08 L23.59,191.15 L23.70,191.22 L23.81,191.29 L23.92,191.35 L24.03,191.42 L24.14,191.48 L24.25,191.54 L24.36,191.61 L24.47,191.67 L24.58,191.74 L24.69,191.80 L24.79,191.87 L24.90,191.93 L25.01,192.00 L25.12,192.07 L25.23,192.13 L25.34,192.20 L25.45,192.26 L25.56,192.33 L25.67,192.40 L25.78,192.46 L25.89,192.53 L26.00,192.60 L26.11,192.66 L26.22,192.73 L26.33,192.79 L26.44,192.86 L26.55,192.93 L26.66,192.99 L26.77,193.06 L26.88,193.12 L26.99,193.19 L27.10,193.25 L27.21,193.32 L27.32,193.38 L27.43,193.45 L27.54,193.51 L27.65,193.58 L27.76,193.64 L27.87,193.70 L27.98,193.77 L28.09,193.83 L28.20,193.89 L28.31,193.95 L28.42,194.01 L28.53,194.07 L28.64,194.13 L28.75,194.19 L28.86,194.25 L28.97,194.31 L29.08,194.37 L29.19,194.43 L29.30,194.49 L29.41,194.55 L29.52,194.61 L29.62,194.67 L29.73,194.73 L29.84,194.79 L29.95,194.85 L30.06,194.91 L30.17,194.97 L30.28,195.03 L30.39,195.09 L30.50,195.15 L30.61,195.21 L30.72,195.27 L30.83,195.33 L30.94,195.39 L31.05,195.45 L31.16,195.51 L31.27,195.57 L31.38,195.63 L31.49,195.69 L31.60,195.75 L31.71,195.81 L31.82,195.87 L31.93,195.93 L32.04,195.99 L32.15,196.05 L32.26,196.11 L32.37,196.17 L32.48,196.22 L32.59,196.28 L32.70,196.34 L32.81,196.40 L32.92,196.46 L33.03,196.51 L33.14,196.57 L33.25,196.63 L33.36,196.68 L33.47,196.74 L33.58,196.80 L33.69,196.85 L33.80,196.91 L33.91,196.96 L34.02,197.02 L34.13,197.07 L34.24,197.13 L34.35,197.18 L34.45,197.24 L34.56,197.29 L34.67,197.34 L34.78,197.40 L34.89,197.45 L35.00,197.50 L35.11,197.55 L35.22,197.60 L35.33,197.65 L35.44,197.71 L35.55,197.76 L35.66,197.81 L35.77,197.85 L35.88,197.90 L35.99,197.95 L36.10,198.00 L36.21,198.05 L36.32,198.09 L36.43,198.14 L36.54,198.19 L36.65,198.23 L36.76,198.28 L36.87,198.32 L36.98,198.37 L37.09,198.41 L37.20,198.45 L37.31,198.49 L37.42,198.54 L37.53,198.58 L37.64,198.62 L37.75,198.66 L37.86,198.70 L37.97,198.74 L38.08,198.77 L38.19,198.81 L38.30,198.85 L38.41,198.89 L38.52,198.93 L38.63,198.96 L38.74,199.00 L38.85,199.03 L38.96,199.07 L39.07,199.11 L39.18,199.14 L39.29,199.17 L39.39,199.21 L39.50,199.24 L39.61,199.28 L39.72,199.31 L39.83,199.34 L39.94,199.38 L40.05,199.41 L40.16,199.44 L40.27,199.47 L40.38,199.50 L40.49,199.54 L40.60,199.57 L40.71,199.60 L40.82,199.63 L40.93,199.66 L41.04,199.69 L41.15,199.72 L41.26,199.75 L41.37,199.78 L41.48,199.81 L41.59,199.84 L41.70,199.87 L41.81,199.90 L41.92,199.93 L42.03,199.96 L42.14,199.99 L42.25,200.02 L42.36,200.04 L42.47,200.07 L42.58,200.10 L42.69,200.13 L42.80,200.16 L42.91,200.19 L43.02,200.22 L43.13,200.24 L43.24,200.27 L43.35,200.30 L43.46,200.33 L43.57,200.36 L43.68,200.39 L43.79,200.41 L43.90,200.44 L44.01,200.47 L44.12,200.50 L44.22,200.53 L44.33,200.56 L44.44,200.58 L44.55,200.61 L44.66,200.64 L44.77,200.67 L44.88,200.70 L44.99,200.73 L45.10,200.76 L45.21,200.79 L45.32,200.82 L45.43,200.84 L45.54,200.87 L45.65,200.90 L45.76,200.93 L45.87,200.96 L45.98,200.99 L46.09,201.02 L46.20,201.05 L46.31,201.08 L46.42,201.12 L46.53,201.15 L46.64,201.18 L46.75,201.21 L46.86,201.24 L46.97,201.27 L47.08,201.30 L47.19,201.34 L47.30,201.37 L47.41,201.40 L47.52,201.43 L47.63,201.46 L47.74,201.50 L47.85,201.53 L47.96,201.56 L48.07,201.59 L48.18,201.62 L48.29,201.66 L48.40,201.69 L48.51,201.72 L48.62,201.75 L48.73,201.79 L48.84,201.82 L48.95,201.85 L49.06,201.88 L49.16,201.92 L49.27,201.95 L49.38,201.98 L49.49,202.02 L49.60,202.05 L49.71,202.08 L49.82,202.11 L49.93,202.15 L50.04,202.18 L50.15,202.21 L50.26,202.24 L50.37,202.28 L50.48,202.31 L50.59,202.34 L50.70,202.37 L50.81,202.41 L50.92,202.44 L51.03,202.47 L51.14,202.50 L51.25,202.54 L51.36,202.57 L51.47,202.60 L51.58,202.63 L51.69,202.67 L51.80,202.70 L51.91,202.73 L52.02,202.76 L52.13,202.79 L52.24,202.83 L52.35,202.86 L52.46,202.89 L52.57,202.92 L52.68,202.95 L52.79,202.98 L52.90,203.02 L53.01,203.05 L53.12,203.08 L53.23,203.11 L53.34,203.14 L53.45,203.17 L53.56,203.20 L53.67,203.23 L53.78,203.26 L53.89,203.29 L53.99,203.32 L54.10,203.35 L54.21,203.38 L54.32,203.41 L54.43,203.44 L54.54,203.47 L54.65,203.50 L54.76,203.53 L54.87,203.56 L54.98,203.59 L55.09,203.62 L55.20,203.65 L55.31,203.68 L55.42,203.71 L55.53,203.73 L55.64,203.76 L55.75,203.79 L55.86,203.82 L55.97,203.85 L56.08,203.88 L56.19,203.90 L56.30,203.93 L56.41,203.96 L56.74,204.05 L57.07,204.13 L57.40,204.21 L57.73,204.30 L58.06,204.38 L58.39,204.46 L58.72,204.55 L59.06,204.63 L59.39,204.71 L59.72,204.79 L60.05,204.87 L60.38,204.96 L60.71,205.04 L61.04,205.12 L61.37,205.20 L61.70,205.28 L62.03,205.35 L62.36,205.43 L62.69,205.51 L63.02,205.59 L63.35,205.67 L63.69,205.74 L64.02,205.82 L64.35,205.90 L64.68,205.97 L65.01,206.05 L65.34,206.12 L65.67,206.20 L66.00,206.27 L66.33,206.35 L66.66,206.42 L66.99,206.49 L67.32,206.56 L67.65,206.64 L67.98,206.71 L68.32,206.78 L68.65,206.85 L68.98,206.92 L69.31,206.99 L69.64,207.06 L69.97,207.13 L70.30,207.19 L70.63,207.26 L70.96,207.33 L71.29,207.40 L71.62,207.46 L71.95,207.53 L72.28,207.59 L72.61,207.66 L72.94,207.72 L73.28,207.79 L73.61,207.85 L73.94,207.91 L74.27,207.97 L74.60,208.04 L74.93,208.10 L75.26,208.16 L75.59,208.22 L75.92,208.28 L76.25,208.34 L76.58,208.40 L76.91,208.46 L77.24,208.51 L77.57,208.57 L77.91,208.63 L78.24,208.69 L78.57,208.74 L78.90,208.80 L79.23,208.86 L79.56,208.91 L79.89,208.97 L80.22,209.03 L80.55,209.08 L80.88,209.14 L81.21,209.19 L81.54,209.25 L81.87,209.30 L82.20,209.35 L82.54,209.41 L82.87,209.46 L83.20,209.51 L83.53,209.57 L83.86,209.62 L84.19,209.67 L84.52,209.73 L84.85,209.78 L85.18,209.83 L85.51,209.88 L85.84,209.94 L86.17,209.99 L86.50,210.04 L86.83,210.09 L87.16,210.14 L87.50,210.19 L87.83,210.24 L88.16,210.29 L88.49,210.34 L88.82,210.39 L89.15,210.44 L89.48,210.49 L89.81,210.54 L90.14,210.59 L90.47,210.64 L90.80,210.69 L91.13,210.74 L91.46,210.79 L91.79,210.84 L92.13,210.88 L92.46,210.93 L92.79,210.98 L93.12,211.03 L93.45,211.08 L93.78,211.12 L94.11,211.17 L94.44,211.22 L94.77,211.26 L95.10,211.31 L95.43,211.36 L95.76,211.40 L96.09,211.45 L96.42,211.50 L96.76,211.54 L97.09,211.59 L97.42,211.63 L97.75,211.68 L98.08,211.72 L98.41,211.77 L98.74,211.81 L99.07,211.86 L99.40,211.90 L99.73,211.95 L100.06,211.99 L100.39,212.03 L100.72,212.08 L101.05,212.12 L101.38,212.17 L101.72,212.21 L102.05,212.25 L102.38,212.30 L102.71,212.34 L103.04,212.38 L103.37,212.42 L103.70,212.47 L104.03,212.51 L104.36,212.55 L104.69,212.59 L105.02,212.64 L105.35,212.68 L105.68,212.72 L106.01,212.76 L106.35,212.80 L106.68,212.85 L107.01,212.89 L107.34,212.93 L107.67,212.97 L108.00,213.01 L108.33,213.05 L108.66,213.09 L108.99,213.13 L109.32,213.17 L109.65,213.21 L109.98,213.25 L110.31,213.29 L110.64,213.33 L110.98,213.37 L111.31,213.41 L111.64,213.45 L111.97,213.49 L112.30,213.53 L112.63,213.57 L112.96,213.61 L113.29,213.65 L113.62,213.69 L113.95,213.73 L114.28,213.77 L114.61,213.81 L114.94,213.85 L115.27,213.88 L115.61,213.92 L115.94,213.96 L116.27,214.00 L116.60,214.04 L116.93,214.08 L117.26,214.11 L117.59,214.15 L117.92,214.19 L118.25,214.23 L118.58,214.26 L118.91,214.30 L119.24,214.34 L119.57,214.38 L119.90,214.41 L120.23,214.45 L120.57,214.49 L120.90,214.53 L121.23,214.56 L121.56,214.60 L121.89,214.64 L122.22,214.67 L122.55,214.71 L122.88,214.75 L123.21,214.78 L123.54,214.82 L123.87,214.85 L124.20,214.89 L124.53,214.93 L124.86,214.96 L125.20,215.00 L125.53,215.04 L125.86,215.07 L126.19,215.11 L126.52,215.14 L126.85,215.18 L127.18,215.21 L127.51,215.25 L127.84,215.29 L128.17,215.32 L128.50,215.36 L128.83,215.39 L129.16,215.43 L129.49,215.46 L129.83,215.50 L130.16,215.53 L130.49,215.57 L130.82,215.60 L131.15,215.64 L131.48,215.67 L131.81,215.71 L132.14,215.74 L132.47,215.78 L132.80,215.81 L133.13,215.84 L133.46,215.88 L133.79,215.91 L134.12,215.95 L134.45,215.98 L134.79,216.01 L135.12,216.05 L135.45,216.08 L135.78,216.11 L136.11,216.15 L136.44,216.18 L136.77,216.21 L137.10,216.24 L137.43,216.28 L137.76,216.31 L138.09,216.34 L138.42,216.37 L138.75,216.41 L139.08,216.44 L139.42,216.47 L139.75,216.50 L140.08,216.53 L140.41,216.57 L140.74,216.60 L141.07,216.63 L141.40,216.66 L141.73,216.69 L142.06,216.72 L142.39,216.75 L142.72,216.78 L143.05,216.81 L143.38,216.84 L143.71,216.87 L144.05,216.90 L144.38,216.93 L144.71,216.96 L145.04,216.99 L145.37,217.02 L145.70,217.05 L146.03,217.08 L146.36,217.11 L146.69,217.14 L147.02,217.17 L147.35,217.20 L147.68,217.23 L148.01,217.26 L148.34,217.29 L148.67,217.32 L149.01,217.35 L149.34,217.37 L149.67,217.40 L150.00,217.43 L150.33,217.46 L150.66,217.49 L150.99,217.52 L151.32,217.55 L151.65,217.57 L151.98,217.60 L152.31,217.63 L152.64,217.66 L152.97,217.69 L153.30,217.72 L153.64,217.74 L153.97,217.77 L154.30,217.80 L154.63,217.83 L154.96,217.86 L155.29,217.88 L155.62,217.91 L155.95,217.94 L156.28,217.97 L156.61,218.00 L156.94,218.02 L157.27,218.05 L157.60,218.08 L157.93,218.11 L158.27,218.13 L158.60,218.16 L158.93,218.19 L159.26,218.21 L159.59,218.24 L159.92,218.27 L160.25,218.30 L160.58,218.32 L160.91,218.35 L161.24,218.38 L161.57,218.40 L161.90,218.43 L162.23,218.46 L162.56,218.48 L162.89,218.51 L163.23,218.54 L163.56,218.56 L163.89,218.59 L164.22,218.62 L164.55,218.64 L164.88,218.67 L165.21,218.69 L165.54,218.72 L165.87,218.75 L166.20,218.77 L166.53,218.80 L166.86,218.82 L167.19,218.85 L167.52,218.88 L167.86,218.90 L168.19,218.93 L168.52,218.95 L168.85,218.98 L169.18,219.00 L169.51,219.03 L169.84,219.05 L170.17,219.08 L170.50,219.11 L170.83,219.13 L171.16,219.16 L171.49,219.18 L171.82,219.21 L172.15,219.23 L172.49,219.26 L172.82,219.28 L173.15,219.31 L173.48,219.33 L173.81,219.36 L174.14,219.38 L174.47,219.40 L174.80,219.43 L175.13,219.45 L175.46,219.48 L175.79,219.50 L176.12,219.53 L176.45,219.55 L176.78,219.58 L177.11,219.60 L177.45,219.62 L177.78,219.65 L178.11,219.67 L178.44,219.70 L178.77,219.72 L179.10,219.74 L179.43,219.77 L179.76,219.79 L180.09,219.82 L180.42,219.84 L180.75,219.86 L181.08,219.89 L181.41,219.91 L181.74,219.93 L182.08,219.96 L182.41,219.98 L182.74,220.00 L183.07,220.03 L183.40,220.05 L183.73,220.07 L184.06,220.10 L184.39,220.12 L184.72,220.14 L185.05,220.17 L185.38,220.19 L185.71,220.21 L186.04,220.24 L186.37,220.26 L186.71,220.28 L187.04,220.30 L187.37,220.33 L187.70,220.35 L188.03,220.37 L188.36,220.39 L188.69,220.42 L189.02,220.44 L189.35,220.46 L189.68,220.48 L190.01,220.51 L190.34,220.53 L190.67,220.55 L191.00,220.57 L191.33,220.59 L191.67,220.62 L192.00,220.64 L192.33,220.66 L192.66,220.68 L192.99,220.70 L193.32,220.73 L193.65,220.75 L193.98,220.77 L194.31,220.79 L194.64,220.81 L194.97,220.83 L195.30,220.86 L195.63,220.88 L195.96,220.90 L196.30,220.92 L196.63,220.94 L196.96,220.96 L197.29,220.98 L197.62,221.01 L197.95,221.03 L198.28,221.05 L198.61,221.07 L198.94,221.09 L199.27,221.11 L199.60,221.13 L199.93,221.15 L200.26,221.17 L200.59,221.20 L200.93,221.22 L201.26,221.24 L201.59,221.26 L201.92,221.28 L202.25,221.30 L202.58,221.32 L202.91,221.34 L203.24,221.36 L203.57,221.38 L203.90,221.40 L204.23,221.42 L204.56,221.44 L204.89,221.46 L205.22,221.48 L205.55,221.50 L205.89,221.52 L206.22,221.54 L206.55,221.56 L206.88,221.58 L207.21,221.60 L207.54,221.62 L207.87,221.64 L208.20,221.66 L208.53,221.68 L208.86,221.70 L209.19,221.72 L209.52,221.74 L209.85,221.76 L210.18,221.78 L210.52,221.80 L210.85,221.82 L211.18,221.84 L211.51,221.86 L211.84,221.88 L212.17,221.90 L212.50,221.92 L212.83,221.94 L213.16,221.96 L213.49,221.98 L213.82,222.00 L214.15,222.02 L214.48,222.04 L214.81,222.06 L215.15,222.07 L215.48,222.09 L215.81,222.11 L216.14,222.13 L216.47,222.15 L216.80,222.17 L217.13,222.19 L217.46,222.21 L217.79,222.23 L218.12,222.25 L218.45,222.26 L218.78,222.28 L219.11,222.30 L219.44,222.32 L219.77,222.34 L220.11,222.36 L220.44,222.38 L220.77,222.40 L221.10,222.41 L221.43,222.43 L221.76,222.45 L222.09,222.47 L222.42,222.49 L222.75,222.51 L223.08,222.53 L223.41,222.54 L223.74,222.56 L224.07,222.58 L224.40,222.60 L224.74,222.62 L225.07,222.64 L225.40,222.65 L225.73,222.67 L226.06,222.69 L226.39,222.71 L226.72,222.73 L227.05,222.75 L227.38,222.76 L227.71,222.78 L228.04,222.80 L228.37,222.82 L228.70,222.84 L229.03,222.85 L229.37,222.87 L229.70,222.89 L230.03,222.91 L230.36,222.92 L230.69,222.94 L231.02,222.96 L231.35,222.98 L231.68,223.00 L232.01,223.01 L232.34,223.03 L232.67,223.05 L233.00,223.07 L233.33,223.08 L233.66,223.10 L234.00,223.12 L234.33,223.14 L234.66,223.15 L234.99,223.17 L235.32,223.19 L235.65,223.21 L235.98,223.22 L236.31,223.24 L236.64,223.26 L236.97,223.28 L237.30,223.29 L237.63,223.31 L237.96,223.33 L238.29,223.34 L238.62,223.36 L238.96,223.38 L239.29,223.40 L239.62,223.41 L239.95,223.43 L240.28,223.45 L240.61,223.46 L240.94,223.48 L241.27,223.50 L241.60,223.52 L241.93,223.53 L242.26,223.55 L242.59,223.57 L242.92,223.58 L243.25,223.60 L243.59,223.62 L243.92,223.63 L244.25,223.65 L244.58,223.67 L244.91,223.68 L245.24,223.70 L245.57,223.72 L245.90,223.73 L246.23,223.75 L246.56,223.77 L246.89,223.78 L247.22,223.80 L247.55,223.81 L247.88,223.83 L248.22,223.85 L248.55,223.86 L248.88,223.88 L249.21,223.90 L249.54,223.91 L249.87,223.93 L250.20,223.95 L250.53,223.96 L250.86,223.98 L251.19,223.99 L251.52,224.01 L251.85,224.03 L252.18,224.04 L252.51,224.06 L252.84,224.07 L253.18,224.09 L253.51,224.11 L253.84,224.12 L254.17,224.14 L254.50,224.15 L254.83,224.17 L255.16,224.19 L255.49,224.20 L255.82,224.22 L256.15,224.23 L256.48,224.25 L256.81,224.26 L257.14,224.28 L257.47,224.30 L257.81,224.31 L258.14,224.33 L258.47,224.34 L258.80,224.36 L259.13,224.37 L259.46,224.39 L259.79,224.40 L260.12,224.42 L260.45,224.44 L260.78,224.45 L261.11,224.47 L261.44,224.48 L261.77,224.50 L262.10,224.51 L262.44,224.53 L262.77,224.54 L263.10,224.56 L263.43,224.57 L263.76,224.59 L264.09,224.60 L264.42,224.62 L264.75,224.63 L265.08,224.65 L265.41,224.67 L265.74,224.68 L266.07,224.70 L266.40,224.71 L266.73,224.73 L267.06,224.74 L267.40,224.76 L267.73,224.77 L268.06,224.79 L268.39,224.80 L268.72,224.82 L269.05,224.83 L269.38,224.85 L269.71,224.86 L270.04,224.87 L270.37,224.89 L270.70,224.90 L271.03,224.92 L271.36,224.93 L271.69,224.95 L272.03,224.96 L272.36,224.98 L272.69,224.99 L273.02,225.01 L273.35,225.02 L273.68,225.04 L274.01,225.05 L274.34,225.07 L274.67,225.08 L275.00,225.10 L275.33,225.11 L275.66,225.12 L275.99,225.14 L276.32,225.15 L276.66,225.17 L276.99,225.18 L277.32,225.20 L277.65,225.21 L277.98,225.23 L278.31,225.24 L278.64,225.25 L278.97,225.27 L279.30,225.28 L279.63,225.30 L279.96,225.31 L280.29,225.33 L280.62,225.34 L280.95,225.35 L281.28,225.37 L281.62,225.38 L281.95,225.40 L282.28,225.41 L282.61,225.43 L282.94,225.44 L283.27,225.45 L283.60,225.47 L283.93,225.48 L284.26,225.50 L284.59,225.51 L284.92,225.52 L285.25,225.54 L285.58,225.55 L285.91,225.57 L286.25,225.58 L286.58,225.59 L286.91,225.61 L287.24,225.62 L287.57,225.63 L287.90,225.65 L288.23,225.66 L288.56,225.68 L288.89,225.69 L289.22,225.70 L289.55,225.72 L289.88,225.73 L290.21,225.74 L290.54,225.76 L290.88,225.77 L291.21,225.79 L291.54,225.80 L291.87,225.81 L292.20,225.83 L292.53,225.84 L292.86,225.85 L293.19,225.87 L293.52,225.88 L293.85,225.89 L294.18,225.91 L294.51,225.92 L294.84,225.93 L295.17,225.95 L295.50,225.96 L295.84,225.97 L296.17,225.99 L296.50,226.00 L296.83,226.01 L297.16,226.03 L297.49,226.04 L297.82,226.05 L298.15,226.07 L298.48,226.08 L298.81,226.09 L299.14,226.11 L299.47,226.12 L299.80,226.13 L300.13,226.15 L300.47,226.16 L300.80,226.17 L301.13,226.19 L301.46,226.20 L301.79,226.21 L302.12,226.22 L302.45,226.24 L302.78,226.25 L303.11,226.26 L303.44,226.28 L303.77,226.29 L304.10,226.30 L304.43,226.32 L304.76,226.33 L305.10,226.34 L305.43,226.35 L305.76,226.37 L306.09,226.38 L306.42,226.39 L306.75,226.40 L307.08,226.42 L307.41,226.43 L307.74,226.44 L308.07,226.46 L308.40,226.47 L308.73,226.48 L309.06,226.49 L309.39,226.51 L309.72,226.52 L310.06,226.53 L310.39,226.54 L310.72,226.56 L311.05,226.57 L311.38,226.58 L311.71,226.60 L312.04,226.61 L312.37,226.62 L312.70,226.63 L313.03,226.65 L313.36,226.66 L313.69,226.67 L314.02,226.68 L314.35,226.70 L314.69,226.71 L315.02,226.72 L315.35,226.73 L315.68,226.74 L316.01,226.76 L316.34,226.77 L316.67,226.78 L317.00,226.79 L317.33,226.81 L317.66,226.82 L317.99,226.83 L318.32,226.84 L318.65,226.86 L318.98,226.87 L319.32,226.88 L319.65,226.89 L319.98,226.90 L320.31,226.92 L320.64,226.93 L320.97,226.94 L321.30,226.95 L321.63,226.97 L321.96,226.98 L322.29,226.99 L322.62,227.00 L322.95,227.01 L323.28,227.03 L323.61,227.04 L323.94,227.05 L324.28,227.06 L324.61,227.07 L324.94,227.09 L325.27,227.10 L325.60,227.11 L325.93,227.12 L326.26,227.13 L326.59,227.15 L326.92,227.16 L327.25,227.17 L327.58,227.18 L327.91,227.19 L328.24,227.20 L328.57,227.22 L328.91,227.23 L329.24,227.24 L329.57,227.25 L329.90,227.26 L330.23,227.28 L330.56,227.29 L330.89,227.30 L331.22,227.31 L331.55,227.32 L331.88,227.33 L332.21,227.35 L332.54,227.36 L332.87,227.37 L333.20,227.38 L333.54,227.39 L333.87,227.40 L334.20,227.42 L334.53,227.43 L334.86,227.44 L335.19,227.45 L335.52,227.46 L335.85,227.47 L336.18,227.48 L336.51,227.50 L336.84,227.51 L337.17,227.52 L337.50,227.53 L337.83,227.54 L338.16,227.55 L338.50,227.56 L338.83,227.58 L339.16,227.59 L339.49,227.60 L339.82,227.61 L340.15,227.62 L340.48,227.63 L340.81,227.64 L341.14,227.66 L341.47,227.67 L341.80,227.68 L342.13,227.69 L342.46,227.70 L342.79,227.71 L343.13,227.72 L343.46,227.73 L343.79,227.74 L344.12,227.76 L344.45,227.77 L344.78,227.78 L345.11,227.79 L345.44,227.80 L345.77,227.81 L346.10,227.82 L346.43,227.83 L346.76,227.84 L347.09,227.86 L347.42,227.87 L347.76,227.88 L348.09,227.89 L348.42,227.90 L348.75,227.91 L349.08,227.92 L349.41,227.93 L349.74,227.94 L350.07,227.95 L350.40,227.97 L350.73,227.98 L351.06,227.99 L351.39,228.00 L351.72,228.01 L352.05,228.02 L352.39,228.03 L352.72,228.04 L353.05,228.05 L353.38,228.06 L353.71,228.07 L354.04,228.09 L354.37,228.10 L354.70,228.11 L355.03,228.12 L355.36,228.13 L355.69,228.14 L356.02,228.15 L356.35,228.16 L356.68,228.17 L357.01,228.18 L357.35,228.19 L357.68,228.20 L358.01,228.21 L358.34,228.22 L358.67,228.24 L359.00,228.25 L359.33,228.26 L359.66,228.27 L359.99,228.28 L360.32,228.29 L360.65,228.30 L360.98,228.31 L361.31,228.32 L361.64,228.33 L361.98,228.34 L362.31,228.35 L362.64,228.36 L362.97,228.37 L363.30,228.38 L363.63,228.39 L363.96,228.40 L364.29,228.41 L364.62,228.42 L364.95,228.44 L365.28,228.45 L365.61,228.46 L365.94,228.47 L366.27,228.48 L366.61,228.49 L366.94,228.50 L367.27,228.51 L367.60,228.52 L367.93,228.53 L368.26,228.54 L368.59,228.55 L368.92,228.56 L369.25,228.57 L369.58,228.58 L369.91,228.59 L370.24,228.60 L370.57,228.61 L370.90,228.62 L371.23,228.63 L371.57,228.64 L371.90,228.65 L372.23,228.66 L372.56,228.67 L372.89,228.68 L373.22,228.69 L373.55,228.70 L373.88,228.71 L374.21,228.72 L374.54,228.73 L374.87,228.74 L375.20,228.75 L375.53,228.76 L375.86,228.77 L376.20,228.78 L376.53,228.79 L376.86,228.80 L377.19,228.81 L377.52,228.82 L377.85,228.83 L378.18,228.84 L378.51,228.85 L378.84,228.86 L379.17,228.87 L379.50,228.88 L379.83,228.89 L380.16,228.90 L380.49,228.91 L380.83,228.92 L381.16,228.93 L381.49,228.94 L381.82,228.95 L382.15,228.96 L382.48,228.97 L382.81,228.98 L383.14,228.99 L383.47,229.00 L383.80,229.01 L384.13,229.02 L384.46,229.03 L384.79,229.04 L385.12,229.05 L385.45,229.06 L385.79,229.07 L386.12,229.08 L386.45,229.09 L386.78,229.10 L387.11,229.11 L387.44,229.12 L387.77,229.13 L388.10,229.14 L388.43,229.15 L388.76,229.16 L389.09,229.17 L389.42,229.18 L389.75,229.19 L390.08,229.20 L390.42,229.20 L390.75,229.21 L391.08,229.22 L391.41,229.23 L391.74,229.24 L392.07,229.25 L392.40,229.26 L392.73,229.27 L393.06,229.28 L393.39,229.29 L393.72,229.30 L394.05,229.31 L394.38,229.32 L394.71,229.33 L395.05,229.34 L395.38,229.35 L395.71,229.36 L396.04,229.37 L396.37,229.38 L396.70,229.39 L397.03,229.39 L397.36,229.40 L397.69,229.41 L398.02,229.42 L398.35,229.43 L398.68,229.44 L399.01,229.45 L399.34,229.46 L399.67,229.47 L400.01,229.48 L400.34,229.49 L400.67,229.50 L401.00,229.51 L401.33,229.52 L401.66,229.53 L401.99,229.53 L402.32,229.54 L402.65,229.55 L402.98,229.56 L403.31,229.57 L403.64,229.58 L403.97,229.59 L404.30,229.60 L404.64,229.61 L404.97,229.62 L405.30,229.63 L405.63,229.64 L405.96,229.64 L406.29,229.65 L406.62,229.66 L406.95,229.67 L407.28,229.68 L407.61,229.69 L407.94,229.70 L408.27,229.71 L408.60,229.72 L408.93,229.73 L409.27,229.74 L409.60,229.74 L409.93,229.75 L410.26,229.76 L410.59,229.77 L410.92,229.78 L411.25,229.79 L411.58,229.80 L411.91,229.81 L412.24,229.82 L412.57,229.83 L412.90,229.83 L413.23,229.84 L413.56,229.85 L413.89,229.86 L414.23,229.87 L414.56,229.88 L414.89,229.89 L415.22,229.90 L415.55,229.91 L415.88,229.91 L416.21,229.92 L416.54,229.93 L416.87,229.94 L417.20,229.95 L417.53,229.96 L417.86,229.97 L418.19,229.98 L418.52,229.98 L418.86,229.99 L419.19,230.00 L419.52,230.01 L419.85,230.02 L420.18,230.03 L420.51,230.04 L420.84,230.05 L421.17,230.05 L421.50,230.06 L421.83,230.07 L422.16,230.08 L422.49,230.09 L422.82,230.10 L423.15,230.11 L423.49,230.12 L423.82,230.12 L424.15,230.13 L424.48,230.14 L424.81,230.15 L425.14,230.16 L425.47,230.17 L425.80,230.18 L426.13,230.18 L426.46,230.19 L426.79,230.20 L427.12,230.21 L427.45,230.22 L427.78,230.23 L428.11,230.24 L428.45,230.24 L428.78,230.25 L429.11,230.26 L429.44,230.27 L429.77,230.28 L430.10,230.29 L430.43,230.29 L430.76,230.30 L431.09,230.31 L431.42,230.32 L431.75,230.33 L432.08,230.34 L432.41,230.35 L432.74,230.35 L433.08,230.36 L433.41,230.37 L433.74,230.38 L434.07,230.39 L434.40,230.40 L434.73,230.40 L435.06,230.41 L435.39,230.42 L435.72,230.43 L436.05,230.44 L436.38,230.45 L436.71,230.45 L437.04,230.46 L437.37,230.47 L437.71,230.48 L438.04,230.49 L438.37,230.50 L438.70,230.50 L439.03,230.51 L439.36,230.52 L439.69,230.53 L440.02,230.54 L440.35,230.55 L440.68,230.55 L441.01,230.56 L441.34,230.57 L441.67,230.58 L442.00,230.59 L442.33,230.60 L442.67,230.60 L443.00,230.61 L443.33,230.62 L443.66,230.63 L443.99,230.64 L444.32,230.65 L444.65,230.65 L444.98,230.66 L445.31,230.67 L445.64,230.68 L445.97,230.69 L446.30,230.69 L446.63,230.70 L446.96,230.71 L447.30,230.72 L447.63,230.73 L447.96,230.74 L448.29,230.74 L448.62,230.75 L448.95,230.76 L449.28,230.77 L449.61,230.78 L449.94,230.79 L450.27,230.79 L450.60,230.80 L450.93,230.81 L451.26,230.82 L451.59,230.83 L451.93,230.83 L452.26,230.84 L452.59,230.85 L452.92,230.86" stroke="#007a00" stroke-dasharray="18.8 10.15 20.3 8.15 20.3 8.15 20.3 8.15 20.3 8.15 20.3 8.15 20.3 8.15 20.3 8.15 20.3 8.15 20.3 8.15 20.3 8.15 20.3 8.15 20.3 8.15 20.3 8.15 20.3 8.15 20.3 8.15 20.3 8.15 20.3 8.15 20.3 8.15"/>
<path d="M12.50,192.92 L12.61,192.91 L12.72,192.90 L12.83,192.90 L12.94,192.89 L13.05,192.88 L13.16,192.88 L13.27,192.87 L13.38,192.87 L13.49,192.86 L13.60,192.86 L13.71,192.86 L13.82,192.86 L13.93,192.85 L14.04,192.85 L14.15,192.85 L14.26,192.85 L14.37,192.85 L14.48,192.85 L14.59,192.85 L14.70,192.85 L14.81,192.85 L14.92,192.85 L15.02,192.85 L15.13,192.85 L15.24,192.86 L15.35,192.86 L15.46,192.87 L15.57,192.88 L15.68,192.88 L15.79,192.89 L15.90,192.90 L16.01,192.91 L16.12,192.91 L16.23,192.92 L16.34,192.93 L16.45,192.94 L16.56,192.95 L16.67,192.96 L16.78,192.97 L16.89,192.99 L17.00,193.00 L17.11,193.01 L17.22,193.02 L17.33,193.03 L17.44,193.05 L17.55,193.07 L17.66,193.08 L17.77,193.10 L17.88,193.12 L17.99,193.14 L18.10,193.16 L18.21,193.18 L18.32,193.21 L18.43,193.23 L18.54,193.26 L18.65,193.28 L18.76,193.31 L18.87,193.34 L18.98,193.37 L19.09,193.39 L19.20,193.42 L19.31,193.45 L19.42,193.48 L19.53,193.52 L19.64,193.55 L19.75,193.58 L19.85,193.61 L19.96,193.64 L20.07,193.68 L20.18,193.71 L20.29,193.74 L20.40,193.78 L20.51,193.81 L20.62,193.85 L20.73,193.88 L20.84,193.91 L20.95,193.95 L21.06,193.98 L21.17,194.02 L21.28,194.05 L21.39,194.09 L21.50,194.12 L21.61,194.16 L21.72,194.19 L21.83,194.22 L21.94,194.26 L22.05,194.29 L22.16,194.32 L22.27,194.36 L22.38,194.39 L22.49,194.43 L22.60,194.46 L22.71,194.50 L22.82,194.54 L22.93,194.57 L23.04,194.61 L23.15,194.65 L23.26,194.69 L23.37,194.73 L23.48,194.76 L23.59,194.80 L23.70,194.84 L23.81,194.88 L23.92,194.92 L24.03,194.96 L24.14,195.01 L24.25,195.05 L24.36,195.09 L24.47,195.13 L24.58,195.17 L24.69,195.22 L24.79,195.26 L24.90,195.30 L25.01,195.35 L25.12,195.39 L25.23,195.44 L25.34,195.48 L25.45,195.52 L25.56,195.57 L25.67,195.62 L25.78,195.66 L25.89,195.71 L26.00,195.75 L26.11,195.80 L26.22,195.85 L26.33,195.89 L26.44,195.94 L26.55,195.99 L26.66,196.04 L26.77,196.09 L26.88,196.14 L26.99,196.19 L27.10,196.25 L27.21,196.30 L27.32,196.35 L27.43,196.41 L27.54,196.46 L27.65,196.52 L27.76,196.58 L27.87,196.63 L27.98,196.69 L28.09,196.75 L28.20,196.81 L28.31,196.86 L28.42,196.92 L28.53,196.98 L28.64,197.04 L28.75,197.10 L28.86,197.16 L28.97,197.22 L29.08,197.28 L29.19,197.34 L29.30,197.40 L29.41,197.46 L29.52,197.52 L29.62,197.59 L29.73,197.65 L29.84,197.71 L29.95,197.76 L30.06,197.82 L30.17,197.88 L30.28,197.94 L30.39,198.00 L30.50,198.06 L30.61,198.12 L30.72,198.17 L30.83,198.23 L30.94,198.29 L31.05,198.34 L31.16,198.40 L31.27,198.45 L31.38,198.50 L31.49,198.56 L31.60,198.61 L31.71,198.66 L31.82,198.72 L31.93,198.77 L32.04,198.83 L32.15,198.88 L32.26,198.93 L32.37,198.99 L32.48,199.04 L32.59,199.10 L32.70,199.15 L32.81,199.21 L32.92,199.26 L33.03,199.31 L33.14,199.37 L33.25,199.42 L33.36,199.47 L33.47,199.53 L33.58,199.58 L33.69,199.63 L33.80,199.69 L33.91,199.74 L34.02,199.79 L34.13,199.84 L34.24,199.89 L34.35,199.94 L34.45,199.99 L34.56,200.04 L34.67,200.09 L34.78,200.14 L34.89,200.19 L35.00,200.24 L35.11,200.29 L35.22,200.33 L35.33,200.38 L35.44,200.42 L35.55,200.47 L35.66,200.51 L35.77,200.56 L35.88,200.60 L35.99,200.64 L36.10,200.68 L36.21,200.72 L36.32,200.76 L36.43,200.80 L36.54,200.84 L36.65,200.88 L36.76,200.92 L36.87,200.95 L36.98,200.99 L37.09,201.03 L37.20,201.06 L37.31,201.10 L37.42,201.13 L37.53,201.17 L37.64,201.20 L37.75,201.23 L37.86,201.27 L37.97,201.30 L38.08,201.33 L38.19,201.36 L38.30,201.40 L38.41,201.43 L38.52,201.46 L38.63,201.49 L38.74,201.52 L38.85,201.55 L38.96,201.58 L39.07,201.61 L39.18,201.64 L39.29,201.67 L39.39,201.70 L39.50,201.73 L39.61,201.76 L39.72,201.79 L39.83,201.82 L39.94,201.85 L40.05,201.88 L40.16,201.91 L40.27,201.93 L40.38,201.96 L40.49,201.99 L40.60,202.02 L40.71,202.05 L40.82,202.07 L40.93,202.10 L41.04,202.13 L41.15,202.16 L41.26,202.18 L41.37,202.21 L41.48,202.24 L41.59,202.26 L41.70,202.29 L41.81,202.32 L41.92,202.35 L42.03,202.37 L42.14,202.40 L42.25,202.43 L42.36,202.45 L42.47,202.48 L42.58,202.51 L42.69,202.53 L42.80,202.56 L42.91,202.59 L43.02,202.61 L43.13,202.64 L43.24,202.67 L43.35,202.70 L43.46,202.72 L43.57,202.75 L43.68,202.78 L43.79,202.80 L43.90,202.83 L44.01,202.86 L44.12,202.88 L44.22,202.91 L44.33,202.94 L44.44,202.96 L44.55,202.99 L44.66,203.02 L44.77,203.04 L44.88,203.07 L44.99,203.09 L45.10,203.12 L45.21,203.15 L45.32,203.17 L45.43,203.20 L45.54,203.22 L45.65,203.25 L45.76,203.27 L45.87,203.30 L45.98,203.33 L46.09,203.35 L46.20,203.38 L46.31,203.40 L46.42,203.43 L46.53,203.45 L46.64,203.48 L46.75,203.50 L46.86,203.53 L46.97,203.55 L47.08,203.58 L47.19,203.60 L47.30,203.63 L47.41,203.65 L47.52,203.67 L47.63,203.70 L47.74,203.72 L47.85,203.75 L47.96,203.77 L48.07,203.80 L48.18,203.82 L48.29,203.85 L48.40,203.87 L48.51,203.89 L48.62,203.92 L48.73,203.94 L48.84,203.97 L48.95,203.99 L49.06,204.01 L49.16,204.04 L49.27,204.06 L49.38,204.09 L49.49,204.11 L49.60,204.13 L49.71,204.16 L49.82,204.18 L49.93,204.20 L50.04,204.23 L50.15,204.25 L50.26,204.27 L50.37,204.30 L50.48,204.32 L50.59,204.35 L50.70,204.37 L50.81,204.39 L50.92,204.42 L51.03,204.44 L51.14,204.46 L51.25,204.48 L51.36,204.51 L51.47,204.53 L51.58,204.55 L51.69,204.58 L51.80,204.60 L51.91,204.62 L52.02,204.65 L52.13,204.67 L52.24,204.69 L52.35,204.72 L52.46,204.74 L52.57,204.76 L52.68,204.78 L52.79,204.81 L52.90,204.83 L53.01,204.85 L53.12,204.88 L53.23,204.90 L53.34,204.92 L53.45,204.94 L53.56,204.97 L53.67,204.99 L53.78,205.01 L53.89,205.03 L53.99,205.06 L54.10,205.08 L54.21,205.10 L54.32,205.12 L54.43,205.15 L54.54,205.17 L54.65,205.19 L54.76,205.21 L54.87,205.24 L54.98,205.26 L55.09,205.28 L55.20,205.30 L55.31,205.33 L55.42,205.35 L55.53,205.37 L55.64,205.39 L55.75,205.41 L55.86,205.44 L55.97,205.46 L56.08,205.48 L56.19,205.50 L56.30,205.52 L56.41,205.55 L56.74,205.61 L57.07,205.68 L57.40,205.74 L57.73,205.81 L58.06,205.87 L58.39,205.94 L58.72,206.00 L59.06,206.07 L59.39,206.13 L59.72,206.20 L60.05,206.26 L60.38,206.32 L60.71,206.39 L61.04,206.45 L61.37,206.51 L61.70,206.57 L62.03,206.63 L62.36,206.70 L62.69,206.76 L63.02,206.82 L63.35,206.88 L63.69,206.94 L64.02,207.00 L64.35,207.06 L64.68,207.12 L65.01,207.18 L65.34,207.24 L65.67,207.29 L66.00,207.35 L66.33,207.41 L66.66,207.47 L66.99,207.53 L67.32,207.58 L67.65,207.64 L67.98,207.70 L68.32,207.76 L68.65,207.81 L68.98,207.87 L69.31,207.93 L69.64,207.98 L69.97,208.04 L70.30,208.09 L70.63,208.15 L70.96,208.20 L71.29,208.26 L71.62,208.31 L71.95,208.37 L72.28,208.42 L72.61,208.48 L72.94,208.53 L73.28,208.59 L73.61,208.64 L73.94,208.70 L74.27,208.75 L74.60,208.80 L74.93,208.86 L75.26,208.91 L75.59,208.96 L75.92,209.01 L76.25,209.07 L76.58,209.12 L76.91,209.17 L77.24,209.22 L77.57,209.27 L77.91,209.33 L78.24,209.38 L78.57,209.43 L78.90,209.48 L79.23,209.53 L79.56,209.58 L79.89,209.63 L80.22,209.68 L80.55,209.73 L80.88,209.78 L81.21,209.83 L81.54,209.88 L81.87,209.93 L82.20,209.98 L82.54,210.03 L82.87,210.08 L83.20,210.13 L83.53,210.17 L83.86,210.22 L84.19,210.27 L84.52,210.32 L84.85,210.37 L85.18,210.42 L85.51,210.46 L85.84,210.51 L86.17,210.56 L86.50,210.61 L86.83,210.65 L87.16,210.70 L87.50,210.75 L87.83,210.80 L88.16,210.84 L88.49,210.89 L88.82,210.94 L89.15,210.98 L89.48,211.03 L89.81,211.07 L90.14,211.12 L90.47,211.17 L90.80,211.21 L91.13,211.26 L91.46,211.30 L91.79,211.35 L92.13,211.39 L92.46,211.44 L92.79,211.48 L93.12,211.52 L93.45,211.57 L93.78,211.61 L94.11,211.66 L94.44,211.70 L94.77,211.74 L95.10,211.79 L95.43,211.83 L95.76,211.87 L96.09,211.91 L96.42,211.96 L96.76,212.00 L97.09,212.04 L97.42,212.08 L97.75,212.12 L98.08,212.17 L98.41,212.21 L98.74,212.25 L99.07,212.29 L99.40,212.33 L99.73,212.37 L100.06,212.41 L100.39,212.45 L100.72,212.49 L101.05,212.53 L101.38,212.57 L101.72,212.61 L102.05,212.65 L102.38,212.69 L102.71,212.73 L103.04,212.77 L103.37,212.80 L103.70,212.84 L104.03,212.88 L104.36,212.92 L104.69,212.96 L105.02,213.00 L105.35,213.04 L105.68,213.08 L106.01,213.11 L106.35,213.15 L106.68,213.19 L107.01,213.23 L107.34,213.27 L107.67,213.31 L108.00,213.34 L108.33,213.38 L108.66,213.42 L108.99,213.46 L109.32,213.49 L109.65,213.53 L109.98,213.57 L110.31,213.61 L110.64,213.64 L110.98,213.68 L111.31,213.72 L111.64,213.76 L111.97,213.79 L112.30,213.83 L112.63,213.87 L112.96,213.90 L113.29,213.94 L113.62,213.98 L113.95,214.01 L114.28,214.05 L114.61,214.09 L114.94,214.12 L115.27,214.16 L115.61,214.20 L115.94,214.23 L116.27,214.27 L116.60,214.30 L116.93,214.34 L117.26,214.38 L117.59,214.41 L117.92,214.45 L118.25,214.48 L118.58,214.52 L118.91,214.55 L119.24,214.59 L119.57,214.63 L119.90,214.66 L120.23,214.70 L120.57,214.73 L120.90,214.77 L121.23,214.80 L121.56,214.84 L121.89,214.87 L122.22,214.90 L122.55,214.94 L122.88,214.97 L123.21,215.01 L123.54,215.04 L123.87,215.08 L124.20,215.11 L124.53,215.14 L124.86,215.18 L125.20,215.21 L125.53,215.25 L125.86,215.28 L126.19,215.31 L126.52,215.35 L126.85,215.38 L127.18,215.41 L127.51,215.45 L127.84,215.48 L128.17,215.51 L128.50,215.55 L128.83,215.58 L129.16,215.61 L129.49,215.65 L129.83,215.68 L130.16,215.71 L130.49,215.75 L130.82,215.78 L131.15,215.81 L131.48,215.84 L131.81,215.88 L132.14,215.91 L132.47,215.94 L132.80,215.97 L133.13,216.00 L133.46,216.04 L133.79,216.07 L134.12,216.10 L134.45,216.13 L134.79,216.16 L135.12,216.19 L135.45,216.23 L135.78,216.26 L136.11,216.29 L136.44,216.32 L136.77,216.35 L137.10,216.38 L137.43,216.41 L137.76,216.44 L138.09,216.47 L138.42,216.51 L138.75,216.54 L139.08,216.57 L139.42,216.60 L139.75,216.63 L140.08,216.66 L140.41,216.69 L140.74,216.72 L141.07,216.75 L141.40,216.78 L141.73,216.81 L142.06,216.84 L142.39,216.87 L142.72,216.90 L143.05,216.93 L143.38,216.96 L143.71,216.99 L144.05,217.02 L144.38,217.04 L144.71,217.07 L145.04,217.10 L145.37,217.13 L145.70,217.16 L146.03,217.19 L146.36,217.22 L146.69,217.25 L147.02,217.28 L147.35,217.30 L147.68,217.33 L148.01,217.36 L148.34,217.39 L148.67,217.42 L149.01,217.45 L149.34,217.48 L149.67,217.50 L150.00,217.53 L150.33,217.56 L150.66,217.59 L150.99,217.62 L151.32,217.64 L151.65,217.67 L151.98,217.70 L152.31,217.73 L152.64,217.75 L152.97,217.78 L153.30,217.81 L153.64,217.84 L153.97,217.86 L154.30,217.89 L154.63,217.92 L154.96,217.95 L155.29,217.97 L155.62,218.00 L155.95,218.03 L156.28,218.05 L156.61,218.08 L156.94,218.11 L157.27,218.13 L157.60,218.16 L157.93,218.19 L158.27,218.21 L158.60,218.24 L158.93,218.27 L159.26,218.29 L159.59,218.32 L159.92,218.35 L160.25,218.37 L160.58,218.40 L160.91,218.42 L161.24,218.45 L161.57,218.48 L161.90,218.50 L162.23,218.53 L162.56,218.55 L162.89,218.58 L163.23,218.61 L163.56,218.63 L163.89,218.66 L164.22,218.68 L164.55,218.71 L164.88,218.73 L165.21,218.76 L165.54,218.78 L165.87,218.81 L166.20,218.83 L166.53,218.86 L166.86,218.88 L167.19,218.91 L167.52,218.93 L167.86,218.96 L168.19,218.98 L168.52,219.01 L168.85,219.03 L169.18,219.06 L169.51,219.08 L169.84,219.11 L170.17,219.13 L170.50,219.16 L170.83,219.18 L171.16,219.21 L171.49,219.23 L171.82,219.26 L172.15,219.28 L172.49,219.30 L172.82,219.33 L173.15,219.35 L173.48,219.38 L173.81,219.40 L174.14,219.42 L174.47,219.45 L174.80,219.47 L175.13,219.50 L175.46,219.52 L175.79,219.54 L176.12,219.57 L176.45,219.59 L176.78,219.61 L177.11,219.64 L177.45,219.66 L177.78,219.69 L178.11,219.71 L178.44,219.73 L178.77,219.76 L179.10,219.78 L179.43,219.80 L179.76,219.83 L180.09,219.85 L180.42,219.87 L180.75,219.89 L181.08,219.92 L181.41,219.94 L181.74,219.96 L182.08,219.99 L182.41,220.01 L182.74,220.03 L183.07,220.06 L183.40,220.08 L183.73,220.10 L184.06,220.12 L184.39,220.15 L184.72,220.17 L185.05,220.19 L185.38,220.21 L185.71,220.24 L186.04,220.26 L186.37,220.28 L186.71,220.30 L187.04,220.33 L187.37,220.35 L187.70,220.37 L188.03,220.39 L188.36,220.41 L188.69,220.44 L189.02,220.46 L189.35,220.48 L189.68,220.50 L190.01,220.53 L190.34,220.55 L190.67,220.57 L191.00,220.59 L191.33,220.61 L191.67,220.63 L192.00,220.66 L192.33,220.68 L192.66,220.70 L192.99,220.72 L193.32,220.74 L193.65,220.76 L193.98,220.79 L194.31,220.81 L194.64,220.83 L194.97,220.85 L195.30,220.87 L195.63,220.89 L195.96,220.91 L196.30,220.93 L196.63,220.96 L196.96,220.98 L197.29,221.00 L197.62,221.02 L197.95,221.04 L198.28,221.06 L198.61,221.08 L198.94,221.10 L199.27,221.12 L199.60,221.14 L199.93,221.17 L200.26,221.19 L200.59,221.21 L200.93,221.23 L201.26,221.25 L201.59,221.27 L201.92,221.29 L202.25,221.31 L202.58,221.33 L202.91,221.35 L203.24,221.37 L203.57,221.39 L203.90,221.41 L204.23,221.43 L204.56,221.45 L204.89,221.47 L205.22,221.49 L205.55,221.51 L205.89,221.53 L206.22,221.55 L206.55,221.57 L206.88,221.59 L207.21,221.61 L207.54,221.63 L207.87,221.65 L208.20,221.67 L208.53,221.69 L208.86,221.71 L209.19,221.73 L209.52,221.75 L209.85,221.77 L210.18,221.79 L210.52,221.81 L210.85,221.83 L211.18,221.85 L211.51,221.87 L211.84,221.89 L212.17,221.91 L212.50,221.93 L212.83,221.95 L213.16,221.97 L213.49,221.99 L213.82,222.00 L214.15,222.02 L214.48,222.04 L214.81,222.06 L215.15,222.08 L215.48,222.10 L215.81,222.12 L216.14,222.14 L216.47,222.16 L216.80,222.18 L217.13,222.20 L217.46,222.21 L217.79,222.23 L218.12,222.25 L218.45,222.27 L218.78,222.29 L219.11,222.31 L219.44,222.33 L219.77,222.35 L220.11,222.36 L220.44,222.38 L220.77,222.40 L221.10,222.42 L221.43,222.44 L221.76,222.46 L222.09,222.48 L222.42,222.49 L222.75,222.51 L223.08,222.53 L223.41,222.55 L223.74,222.57 L224.07,222.59 L224.40,222.60 L224.74,222.62 L225.07,222.64 L225.40,222.66 L225.73,222.68 L226.06,222.70 L226.39,222.71 L226.72,222.73 L227.05,222.75 L227.38,222.77 L227.71,222.79 L228.04,222.80 L228.37,222.82 L228.70,222.84 L229.03,222.86 L229.37,222.88 L229.70,222.89 L230.03,222.91 L230.36,222.93 L230.69,222.95 L231.02,222.96 L231.35,222.98 L231.68,223.00 L232.01,223.02 L232.34,223.04 L232.67,223.05 L233.00,223.07 L233.33,223.09 L233.66,223.11 L234.00,223.12 L234.33,223.14 L234.66,223.16 L234.99,223.18 L235.32,223.19 L235.65,223.21 L235.98,223.23 L236.31,223.24 L236.64,223.26 L236.97,223.28 L237.30,223.30 L237.63,223.31 L237.96,223.33 L238.29,223.35 L238.62,223.36 L238.96,223.38 L239.29,223.40 L239.62,223.42 L239.95,223.43 L240.28,223.45 L240.61,223.47 L240.94,223.48 L241.27,223.50 L241.60,223.52 L241.93,223.53 L242.26,223.55 L242.59,223.57 L242.92,223.58 L243.25,223.60 L243.59,223.62 L243.92,223.63 L244.25,223.65 L244.58,223.67 L244.91,223.68 L245.24,223.70 L245.57,223.72 L245.90,223.73 L246.23,223.75 L246.56,223.77 L246.89,223.78 L247.22,223.80 L247.55,223.82 L247.88,223.83 L248.22,223.85 L248.55,223.87 L248.88,223.88 L249.21,223.90 L249.54,223.91 L249.87,223.93 L250.20,223.95 L250.53,223.96 L250.86,223.98 L251.19,224.00 L251.52,224.01 L251.85,224.03 L252.18,224.04 L252.51,224.06 L252.84,224.08 L253.18,224.09 L253.51,224.11 L253.84,224.12 L254.17,224.14 L254.50,224.16 L254.83,224.17 L255.16,224.19 L255.49,224.20 L255.82,224.22 L256.15,224.23 L256.48,224.25 L256.81,224.27 L257.14,224.28 L257.47,224.30 L257.81,224.31 L258.14,224.33 L258.47,224.34 L258.80,224.36 L259.13,224.37 L259.46,224.39 L259.79,224.41 L260.12,224.42 L260.45,224.44 L260.78,224.45 L261.11,224.47 L261.44,224.48 L261.77,224.50 L262.10,224.51 L262.44,224.53 L262.77,224.54 L263.10,224.56 L263.43,224.58 L263.76,224.59 L264.09,224.61 L264.42,224.62 L264.75,224.64 L265.08,224.65 L265.41,224.67 L265.74,224.68 L266.07,224.70 L266.40,224.71 L266.73,224.73 L267.06,224.74 L267.40,224.76 L267.73,224.77 L268.06,224.79 L268.39,224.80 L268.72,224.82 L269.05,224.83 L269.38,224.85 L269.71,224.86 L270.04,224.88 L270.37,224.89 L270.70,224.91 L271.03,224.92 L271.36,224.94 L271.69,224.95 L272.03,224.96 L272.36,224.98 L272.69,224.99 L273.02,225.01 L273.35,225.02 L273.68,225.04 L274.01,225.05 L274.34,225.07 L274.67,225.08 L275.00,225.10 L275.33,225.11 L275.66,225.13 L275.99,225.14 L276.32,225.15 L276.66,225.17 L276.99,225.18 L277.32,225.20 L277.65,225.21 L277.98,225.23 L278.31,225.24 L278.64,225.26 L278.97,225.27 L279.30,225.28 L279.63,225.30 L279.96,225.31 L280.29,225.33 L280.62,225.34 L280.95,225.35 L281.28,225.37 L281.62,225.38 L281.95,225.40 L282.28,225.41 L282.61,225.43 L282.94,225.44 L283.27,225.45 L283.60,225.47 L283.93,225.48 L284.26,225.50 L284.59,225.51 L284.92,225.52 L285.25,225.54 L285.58,225.55 L285.91,225.57 L286.25,225.58 L286.58,225.59 L286.91,225.61 L287.24,225.62 L287.57,225.63 L287.90,225.65 L288.23,225.66 L288.56,225.68 L288.89,225.69 L289.22,225.70 L289.55,225.72 L289.88,225.73 L290.21,225.74 L290.54,225.76 L290.88,225.77 L291.21,225.79 L291.54,225.80 L291.87,225.81 L292.20,225.83 L292.53,225.84 L292.86,225.85 L293.19,225.87 L293.52,225.88 L293.85,225.89 L294.18,225.91 L294.51,225.92 L294.84,225.93 L295.17,225.95 L295.50,225.96 L295.84,225.97 L296.17,225.99 L296.50,226.00 L296.83,226.01 L297.16,226.03 L297.49,226.04 L297.82,226.05 L298.15,226.07 L298.48,226.08 L298.81,226.09 L299.14,226.11 L299.47,226.12 L299.80,226.13 L300.13,226.15 L300.47,226.16 L300.80,226.17 L301.13,226.19 L301.46,226.20 L301.79,226.21 L302.12,226.22 L302.45,226.24 L302.78,226.25 L303.11,226.26 L303.44,226.28 L303.77,226.29 L304.10,226.30 L304.43,226.32 L304.76,226.33 L305.10,226.34 L305.43,226.35 L305.76,226.37 L306.09,226.38 L306.42,226.39 L306.75,226.41 L307.08,226.42 L307.41,226.43 L307.74,226.44 L308.07,226.46 L308.40,226.47 L308.73,226.48 L309.06,226.49 L309.39,226.51 L309.72,226.52 L310.06,226.53 L310.39,226.54 L310.72,226.56 L311.05,226.57 L311.38,226.58 L311.71,226.60 L312.04,226.61 L312.37,226.62 L312.70,226.63 L313.03,226.65 L313.36,226.66 L313.69,226.67 L314.02,226.68 L314.35,226.70 L314.69,226.71 L315.02,226.72 L315.35,226.73 L315.68,226.74 L316.01,226.76 L316.34,226.77 L316.67,226.78 L317.00,226.79 L317.33,226.81 L317.66,226.82 L317.99,226.83 L318.32,226.84 L318.65,226.86 L318.98,226.87 L319.32,226.88 L319.65,226.89 L319.98,226.90 L320.31,226.92 L320.64,226.93 L320.97,226.94 L321.30,226.95 L321.63,226.97 L321.96,226.98 L322.29,226.99 L322.62,227.00 L322.95,227.01 L323.28,227.03 L323.61,227.04 L323.94,227.05 L324.28,227.06 L324.61,227.07 L324.94,227.09 L325.27,227.10 L325.60,227.11 L325.93,227.12 L326.26,227.13 L326.59,227.15 L326.92,227.16 L327.25,227.17 L327.58,227.18 L327.91,227.19 L328.24,227.20 L328.57,227.22 L328.91,227.23 L329.24,227.24 L329.57,227.25 L329.90,227.26 L330.23,227.28 L330.56,227.29 L330.89,227.30 L331.22,227.31 L331.55,227.32 L331.88,227.33 L332.21,227.35 L332.54,227.36 L332.87,227.37 L333.20,227.38 L333.54,227.39 L333.87,227.40 L334.20,227.42 L334.53,227.43 L334.86,227.44 L335.19,227.45 L335.52,227.46 L335.85,227.47 L336.18,227.48 L336.51,227.50 L336.84,227.51 L337.17,227.52 L337.50,227.53 L337.83,227.54 L338.16,227.55 L338.50,227.56 L338.83,227.58 L339.16,227.59 L339.49,227.60 L339.82,227.61 L340.15,227.62 L340.48,227.63 L340.81,227.64 L341.14,227.66 L341.47,227.67 L341.80,227.68 L342.13,227.69 L342.46,227.70 L342.79,227.71 L343.13,227.72 L343.46,227.73 L343.79,227.74 L344.12,227.76 L344.45,227.77 L344.78,227.78 L345.11,227.79 L345.44,227.80 L345.77,227.81 L346.10,227.82 L346.43,227.83 L346.76,227.84 L347.09,227.86 L347.42,227.87 L347.76,227.88 L348.09,227.89 L348.42,227.90 L348.75,227.91 L349.08,227.92 L349.41,227.93 L349.74,227.94 L350.07,227.96 L350.40,227.97 L350.73,227.98 L351.06,227.99 L351.39,228.00 L351.72,228.01 L352.05,228.02 L352.39,228.03 L352.72,228.04 L353.05,228.05 L353.38,228.06 L353.71,228.07 L354.04,228.09 L354.37,228.10 L354.70,228.11 L355.03,228.12 L355.36,228.13 L355.69,228.14 L356.02,228.15 L356.35,228.16 L356.68,228.17 L357.01,228.18 L357.35,228.19 L357.68,228.20 L358.01,228.21 L358.34,228.22 L358.67,228.24 L359.00,228.25 L359.33,228.26 L359.66,228.27 L359.99,228.28 L360.32,228.29 L360.65,228.30 L360.98,228.31 L361.31,228.32 L361.64,228.33 L361.98,228.34 L362.31,228.35 L362.64,228.36 L362.97,228.37 L363.30,228.38 L363.63,228.39 L363.96,228.40 L364.29,228.41 L364.62,228.42 L364.95,228.44 L365.28,228.45 L365.61,228.46 L365.94,228.47 L366.27,228.48 L366.61,228.49 L366.94,228.50 L367.27,228.51 L367.60,228.52 L367.93,228.53 L368.26,228.54 L368.59,228.55 L368.92,228.56 L369.25,228.57 L369.58,228.58 L369.91,228.59 L370.24,228.60 L370.57,228.61 L370.90,228.62 L371.23,228.63 L371.57,228.64 L371.90,228.65 L372.23,228.66 L372.56,228.67 L372.89,228.68 L373.22,228.69 L373.55,228.70 L373.88,228.71 L374.21,228.72 L374.54,228.73 L374.87,228.74 L375.20,228.75 L375.53,228.76 L375.86,228.77 L376.20,228.78 L376.53,228.79 L376.86,228.80 L377.19,228.81 L377.52,228.82 L377.85,228.83 L378.18,228.84 L378.51,228.85 L378.84,228.86 L379.17,228.87 L379.50,228.88 L379.83,228.89 L380.16,228.90 L380.49,228.91 L380.83,228.92 L381.16,228.93 L381.49,228.94 L381.82,228.95 L382.15,228.96 L382.48,228.97 L382.81,228.98 L383.14,228.99 L383.47,229.00 L383.80,229.01 L384.13,229.02 L384.46,229.03 L384.79,229.04 L385.12,229.05 L385.45,229.06 L385.79,229.07 L386.12,229.08 L386.45,229.09 L386.78,229.10 L387.11,229.11 L387.44,229.12 L387.77,229.13 L388.10,229.14 L388.43,229.15 L388.76,229.16 L389.09,229.17 L389.42,229.18 L389.75,229.19 L390.08,229.20 L390.42,229.20 L390.75,229.21 L391.08,229.22 L391.41,229.23 L391.74,229.24 L392.07,229.25 L392.40,229.26 L392.73,229.27 L393.06,229.28 L393.39,229.29 L393.72,229.30 L394.05,229.31 L394.38,229.32 L394.71,229.33 L395.05,229.34 L395.38,229.35 L395.71,229.36 L396.04,229.37 L396.37,229.38 L396.70,229.39 L397.03,229.39 L397.36,229.40 L397.69,229.41 L398.02,229.42 L398.35,229.43 L398.68,229.44 L399.01,229.45 L399.34,229.46 L399.67,229.47 L400.01,229.48 L400.34,229.49 L400.67,229.50 L401.00,229.51 L401.33,229.52 L401.66,229.53 L401.99,229.53 L402.32,229.54 L402.65,229.55 L402.98,229.56 L403.31,229.57 L403.64,229.58 L403.97,229.59 L404.30,229.60 L404.64,229.61 L404.97,229.62 L405.30,229.63 L405.63,229.64 L405.96,229.64 L406.29,229.65 L406.62,229.66 L406.95,229.67 L407.28,229.68 L407.61,229.69 L407.94,229.70 L408.27,229.71 L408.60,229.72 L408.93,229.73 L409.27,229.74 L409.60,229.74 L409.93,229.75 L410.26,229.76 L410.59,229.77 L410.92,229.78 L411.25,229.79 L411.58,229.80 L411.91,229.81 L412.24,229.82 L412.57,229.83 L412.90,229.83 L413.23,229.84 L413.56,229.85 L413.89,229.86 L414.23,229.87 L414.56,229.88 L414.89,229.89 L415.22,229.90 L415.55,229.91 L415.88,229.91 L416.21,229.92 L416.54,229.93 L416.87,229.94 L417.20,229.95 L417.53,229.96 L417.86,229.97 L418.19,229.98 L418.52,229.98 L418.86,229.99 L419.19,230.00 L419.52,230.01 L419.85,230.02 L420.18,230.03 L420.51,230.04 L420.84,230.05 L421.17,230.05 L421.50,230.06 L421.83,230.07 L422.16,230.08 L422.49,230.09 L422.82,230.10 L423.15,230.11 L423.49,230.12 L423.82,230.12 L424.15,230.13 L424.48,230.14 L424.81,230.15 L425.14,230.16 L425.47,230.17 L425.80,230.18 L426.13,230.18 L426.46,230.19 L426.79,230.20 L427.12,230.21 L427.45,230.22 L427.78,230.23 L428.11,230.24 L428.45,230.24 L428.78,230.25 L429.11,230.26 L429.44,230.27 L429.77,230.28 L430.10,230.29 L430.43,230.29 L430.76,230.30 L431.09,230.31 L431.42,230.32 L431.75,230.33 L432.08,230.34 L432.41,230.35 L432.74,230.35 L433.08,230.36 L433.41,230.37 L433.74,230.38 L434.07,230.39 L434.40,230.40 L434.73,230.40 L435.06,230.41 L435.39,230.42 L435.72,230.43 L436.05,230.44 L436.38,230.45 L436.71,230.45 L437.04,230.46 L437.37,230.47 L437.71,230.48 L438.04,230.49 L438.37,230.50 L438.70,230.50 L439.03,230.51 L439.36,230.52 L439.69,230.53 L440.02,230.54 L440.35,230.55 L440.68,230.55 L441.01,230.56 L441.34,230.57 L441.67,230.58 L442.00,230.59 L442.33,230.60 L442.67,230.60 L443.00,230.61 L443.33,230.62 L443.66,230.63 L443.99,230.64 L444.32,230.65 L444.65,230.65 L444.98,230.66 L445.31,230.67 L445.64,230.68 L445.97,230.69 L446.30,230.69 L446.63,230.70 L446.96,230.71 L447.30,230.72 L447.63,230.73 L447.96,230.74 L448.29,230.74 L448.62,230.75 L448.95,230.76 L449.28,230.77 L449.61,230.78 L449.94,230.79 L450.27,230.79 L450.60,230.80 L450.93,230.81 L451.26,230.82 L451.59,230.83 L451.93,230.83 L452.26,230.84 L452.59,230.85 L452.92,230.86" stroke="#ff00ff" stroke-dasharray="15.9 10.55 4.7 10.55" stroke-dashoffset="0.6"/>
</g>

<g font-family="Liberation Serif, serif" font-size="16px" fill="#000"><text x="9.2" y="271.2" text-anchor="end">0</text><text x="9.2" y="197.7" text-anchor="end">1</text><text x="9.2" y="124.2" text-anchor="end">2</text><text x="9.2" y="51.5" text-anchor="end">3</text><text x="12.44" y="282.9" text-anchor="middle">0</text><text x="100.44" y="282.9" text-anchor="middle">2</text><text x="188.44" y="282.9" text-anchor="middle">4</text><text x="276.44" y="282.9" text-anchor="middle">6</text><text x="364.44" y="282.9" text-anchor="middle">8</text><text x="452.44" y="282.9" text-anchor="middle">10</text></g>
<g font-family="Liberation Serif, serif" fill="#000" stroke="#fff" stroke-width="0.18"><text x="82.30000000000001" y="70.6" font-size="17.5px" textLength="191.1" lengthAdjust="spacingAndGlyphs">stiff, solvent-mediated BC</text><text x="351.09999999999997" y="71" font-size="17.5px" textLength="81.6" lengthAdjust="spacingAndGlyphs">Brinkmann</text><text x="232.3" y="148.1" font-size="17.5px" textLength="109.7" lengthAdjust="spacingAndGlyphs">stiff, direct BC</text><text x="208.1" y="213.6" font-size="17.5px" textLength="154.6" lengthAdjust="spacingAndGlyphs">compliant, direct BC</text><text x="78.10000000000001" y="245.6" font-size="17.5px" textLength="235.4" lengthAdjust="spacingAndGlyphs">compliant, solvent-mediated BC</text></g>
<g font-family="Liberation Serif, serif" fill="#000"><text class="mt" x="21.0" y="24.0" font-size="27px" font-style="italic" textLength="17.4" lengthAdjust="spacingAndGlyphs">V</text><text class="mt" x="35.8" y="26.7" font-size="18.5px" font-style="italic" textLength="10.6" lengthAdjust="spacingAndGlyphs">S</text><rect x="19.4" y="27.9" width="30.5" height="1.1"/><text class="mt" x="19.6" y="50.7" font-size="27px" font-style="italic" textLength="17.4" lengthAdjust="spacingAndGlyphs">V</text><text class="mt" x="33.0" y="54.0" font-size="18.5px" font-style="italic" textLength="14.8" lengthAdjust="spacingAndGlyphs">N</text><text class="mt" x="388.6" y="257.8" font-size="25px">&#915;</text><path d="M411.8,237.3 L402.9,263.3" stroke="#000" stroke-width="1.2" fill="none"/><text class="mt" x="413.5" y="257.8" font-size="25px" font-style="italic">&#951;</text><text class="mt" x="427" y="257.8" font-size="25px" font-style="italic">k</text><text class="mt" x="440.2" y="248.4" font-size="17px">2</text></g>
</svg>
</body></html>
